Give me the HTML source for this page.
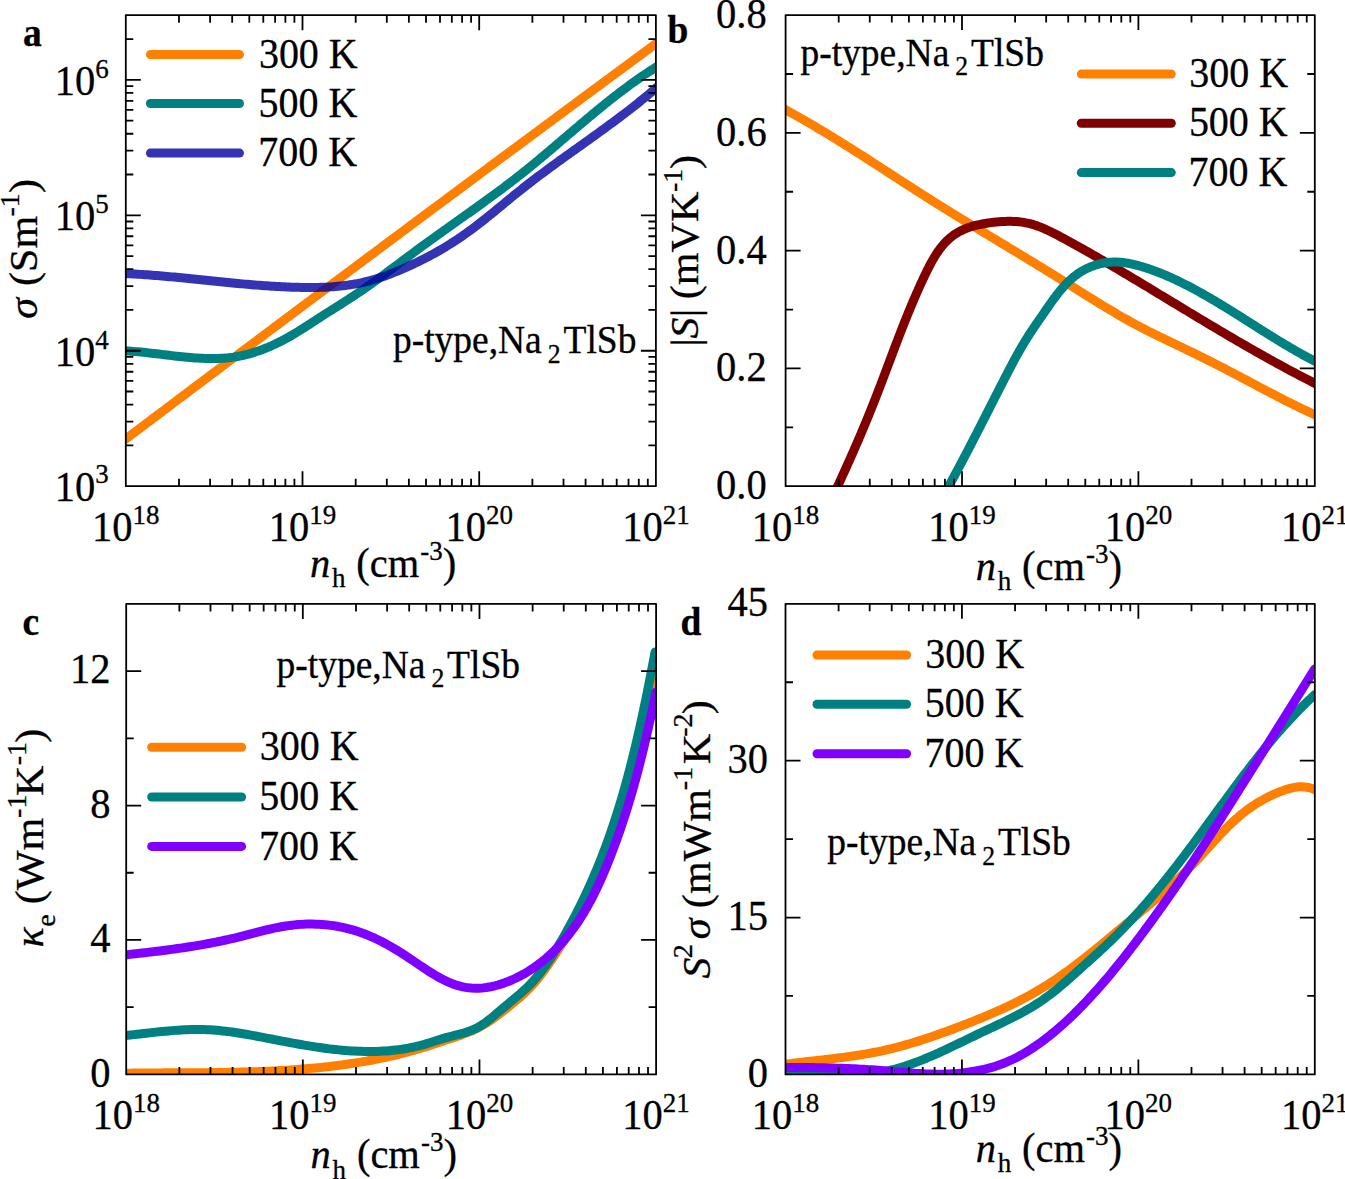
<!DOCTYPE html>
<html><head><meta charset="utf-8"><title>Na2TlSb transport</title>
<style>html,body{margin:0;padding:0;background:#fff;}svg{display:block;}text{stroke:#000;stroke-width:0.3px;}</style></head>
<body><svg width="1345" height="1179" viewBox="0 0 1345 1179" font-family='"Liberation Serif", serif' stroke-linejoin="round"><defs>
<clipPath id="clipa"><rect x="125.8" y="15.2" width="530.10" height="471.00"/></clipPath>
<clipPath id="clipb"><rect x="785.6" y="15.1" width="529.20" height="471.10"/></clipPath>
<clipPath id="clipc"><rect x="126.2" y="603.9" width="529.90" height="470.50"/></clipPath>
<clipPath id="clipd"><rect x="785.5" y="603.8" width="529.30" height="470.60"/></clipPath>
</defs>
<path d="M118.01 444.81 L120.19 443.16 L122.38 441.52 L124.56 439.87 L126.74 438.22 L128.93 436.57 L131.11 434.93 L133.29 433.28 L135.48 431.63 L137.66 429.99 L139.85 428.34 L142.03 426.69 L144.21 425.05 L146.40 423.40 L148.58 421.75 L150.77 420.11 L152.95 418.46 L155.14 416.82 L157.32 415.17 L159.51 413.53 L161.69 411.88 L163.88 410.23 L166.06 408.59 L168.25 406.94 L170.43 405.30 L172.62 403.65 L174.80 402.01 L176.99 400.36 L179.17 398.72 L181.36 397.08 L183.54 395.43 L185.73 393.79 L187.92 392.14 L190.10 390.50 L192.29 388.85 L194.47 387.21 L196.66 385.57 L198.85 383.92 L201.03 382.28 L203.22 380.64 L205.41 378.99 L207.59 377.35 L209.78 375.71 L211.97 374.06 L214.15 372.42 L216.34 370.78 L218.53 369.14 L220.71 367.49 L222.90 365.85 L225.09 364.21 L227.28 362.57 L229.46 360.92 L231.65 359.28 L233.84 357.64 L236.03 356.00 L238.21 354.36 L240.40 352.72 L242.59 351.07 L244.78 349.43 L246.97 347.79 L249.15 346.15 L251.34 344.51 L253.53 342.87 L255.72 341.23 L257.91 339.59 L260.10 337.95 L262.28 336.31 L264.47 334.66 L266.66 333.02 L268.85 331.38 L271.04 329.74 L273.23 328.10 L275.42 326.46 L277.61 324.82 L279.80 323.18 L281.99 321.55 L284.17 319.91 L286.36 318.27 L288.55 316.63 L290.74 314.99 L292.93 313.35 L295.12 311.71 L297.31 310.07 L299.50 308.43 L301.69 306.79 L303.88 305.16 L306.07 303.52 L308.26 301.88 L310.45 300.24 L312.64 298.60 L314.83 296.96 L317.02 295.33 L319.22 293.69 L321.41 292.05 L323.60 290.41 L325.79 288.78 L327.98 287.14 L330.17 285.50 L332.36 283.86 L334.55 282.23 L336.74 280.59 L338.93 278.95 L341.13 277.32 L343.32 275.68 L345.51 274.04 L347.70 272.41 L349.89 270.77 L352.08 269.13 L354.28 267.50 L356.47 265.86 L358.66 264.22 L360.85 262.59 L363.04 260.95 L365.24 259.32 L367.43 257.68 L369.62 256.05 L371.81 254.41 L374.01 252.78 L376.20 251.14 L378.39 249.50 L380.58 247.87 L382.78 246.23 L384.97 244.60 L387.16 242.97 L389.35 241.33 L391.55 239.70 L393.74 238.06 L395.93 236.43 L398.13 234.79 L400.32 233.16 L402.51 231.52 L404.71 229.89 L406.90 228.26 L409.09 226.62 L411.29 224.99 L413.48 223.36 L415.68 221.72 L417.87 220.09 L420.06 218.46 L422.26 216.82 L424.45 215.19 L426.65 213.56 L428.84 211.92 L431.03 210.29 L433.23 208.66 L435.42 207.02 L437.62 205.39 L439.81 203.76 L442.01 202.13 L444.20 200.49 L446.40 198.86 L448.59 197.23 L450.79 195.60 L452.98 193.97 L455.18 192.33 L457.37 190.70 L459.57 189.07 L461.76 187.44 L463.96 185.81 L466.15 184.18 L468.35 182.55 L470.54 180.91 L472.74 179.28 L474.94 177.65 L477.13 176.02 L479.33 174.39 L481.52 172.76 L483.72 171.13 L485.92 169.50 L488.11 167.87 L490.31 166.24 L492.50 164.61 L494.70 162.98 L496.90 161.35 L499.09 159.72 L501.29 158.09 L503.49 156.46 L505.68 154.83 L507.88 153.20 L510.08 151.57 L512.27 149.94 L514.47 148.31 L516.67 146.68 L518.86 145.05 L521.06 143.42 L523.26 141.79 L525.46 140.16 L527.65 138.54 L529.85 136.91 L532.05 135.28 L534.24 133.65 L536.44 132.02 L538.64 130.39 L540.84 128.76 L543.04 127.14 L545.23 125.51 L547.43 123.88 L549.63 122.25 L551.83 120.62 L554.03 119.00 L556.22 117.37 L558.42 115.74 L560.62 114.11 L562.82 112.49 L565.02 110.86 L567.22 109.23 L569.41 107.60 L571.61 105.98 L573.81 104.35 L576.01 102.72 L578.21 101.10 L580.41 99.47 L582.61 97.84 L584.81 96.22 L587.00 94.59 L589.20 92.96 L591.40 91.34 L593.60 89.71 L595.80 88.08 L598.00 86.46 L600.20 84.83 L602.40 83.21 L604.60 81.58 L606.80 79.95 L609.00 78.33 L611.20 76.70 L613.40 75.08 L615.60 73.45 L617.80 71.83 L620.00 70.20 L622.20 68.58 L624.40 66.95 L626.60 65.33 L628.80 63.70 L631.00 62.08 L633.20 60.45 L635.40 58.83 L637.60 57.20 L639.80 55.58 L642.00 53.95 L644.20 52.33 L646.40 50.70 L648.60 49.08 L650.80 47.46 L653.00 45.83 L655.20 44.21 L657.41 42.58 L659.61 40.96 L661.81 39.34 L664.01 37.71" stroke="#FF8000" stroke-width="9.0" fill="none" stroke-linejoin="round" stroke-linecap="round" clip-path="url(#clipa)"/>
<path d="M118.09 350.78 L120.60 350.82 L123.11 350.89 L125.63 350.99 L128.16 351.11 L130.69 351.26 L133.23 351.44 L135.77 351.63 L138.32 351.85 L140.87 352.08 L143.43 352.33 L145.99 352.60 L148.56 352.87 L151.13 353.16 L153.70 353.46 L156.28 353.76 L158.86 354.07 L161.44 354.38 L164.02 354.70 L166.61 355.01 L169.19 355.32 L171.78 355.63 L174.37 355.93 L176.96 356.23 L179.55 356.51 L182.14 356.79 L184.72 357.05 L187.31 357.29 L189.90 357.52 L192.49 357.73 L195.07 357.93 L197.65 358.09 L200.23 358.24 L202.81 358.36 L205.38 358.45 L207.95 358.51 L210.52 358.54 L213.09 358.54 L215.65 358.50 L218.20 358.43 L220.75 358.31 L223.30 358.16 L225.84 357.96 L228.38 357.73 L230.91 357.44 L233.43 357.11 L235.95 356.72 L238.45 356.29 L240.96 355.80 L243.45 355.26 L245.94 354.67 L248.42 354.03 L250.89 353.35 L253.35 352.61 L255.80 351.83 L258.24 351.01 L260.67 350.15 L263.08 349.24 L265.49 348.30 L267.88 347.32 L270.26 346.30 L272.63 345.25 L274.99 344.16 L277.33 343.04 L279.65 341.89 L281.96 340.71 L284.25 339.51 L286.53 338.27 L288.79 337.02 L291.04 335.73 L293.27 334.43 L295.48 333.11 L297.68 331.77 L299.87 330.41 L302.05 329.04 L304.22 327.66 L306.38 326.28 L308.54 324.88 L310.70 323.48 L312.85 322.08 L315.00 320.67 L317.15 319.27 L319.31 317.87 L321.47 316.48 L323.63 315.09 L325.80 313.71 L327.96 312.33 L330.14 310.96 L332.31 309.58 L334.48 308.21 L336.65 306.84 L338.83 305.47 L341.00 304.09 L343.17 302.71 L345.33 301.33 L347.49 299.94 L349.65 298.54 L351.80 297.14 L353.95 295.73 L356.09 294.31 L358.22 292.88 L360.35 291.44 L362.47 289.98 L364.59 288.52 L366.70 287.05 L368.80 285.58 L370.90 284.09 L372.99 282.60 L375.08 281.10 L377.17 279.60 L379.25 278.09 L381.33 276.57 L383.40 275.05 L385.47 273.52 L387.54 271.99 L389.61 270.46 L391.67 268.93 L393.74 267.39 L395.80 265.85 L397.86 264.31 L399.92 262.76 L401.98 261.22 L404.04 259.68 L406.11 258.14 L408.17 256.59 L410.23 255.05 L412.30 253.52 L414.36 251.98 L416.43 250.45 L418.50 248.92 L420.57 247.39 L422.65 245.87 L424.73 244.35 L426.81 242.84 L428.89 241.32 L430.98 239.82 L433.07 238.31 L435.16 236.81 L437.25 235.31 L439.34 233.81 L441.44 232.32 L443.53 230.82 L445.63 229.33 L447.73 227.84 L449.83 226.35 L451.93 224.86 L454.03 223.38 L456.13 221.89 L458.23 220.40 L460.32 218.91 L462.42 217.43 L464.52 215.94 L466.62 214.45 L468.72 212.96 L470.81 211.47 L472.91 209.98 L475.00 208.48 L477.09 206.99 L479.18 205.49 L481.27 203.99 L483.36 202.49 L485.44 200.98 L487.52 199.47 L489.60 197.96 L491.68 196.44 L493.75 194.92 L495.82 193.40 L497.89 191.87 L499.95 190.34 L502.01 188.80 L504.07 187.26 L506.12 185.71 L508.17 184.16 L510.21 182.60 L512.25 181.04 L514.29 179.46 L516.32 177.89 L518.34 176.30 L520.36 174.71 L522.38 173.12 L524.39 171.51 L526.39 169.90 L528.39 168.29 L530.39 166.67 L532.38 165.04 L534.37 163.41 L536.35 161.77 L538.34 160.13 L540.31 158.48 L542.29 156.83 L544.26 155.18 L546.23 153.52 L548.20 151.86 L550.17 150.20 L552.13 148.53 L554.09 146.87 L556.05 145.20 L558.01 143.53 L559.97 141.86 L561.93 140.19 L563.89 138.51 L565.85 136.84 L567.81 135.17 L569.76 133.50 L571.72 131.82 L573.68 130.15 L575.64 128.48 L577.60 126.81 L579.57 125.15 L581.53 123.48 L583.50 121.82 L585.47 120.16 L587.44 118.51 L589.41 116.86 L591.39 115.21 L593.37 113.56 L595.35 111.92 L597.34 110.29 L599.33 108.66 L601.33 107.03 L603.33 105.41 L605.33 103.80 L607.34 102.19 L609.35 100.59 L611.37 98.99 L613.39 97.40 L615.42 95.82 L617.45 94.25 L619.49 92.68 L621.54 91.13 L623.59 89.58 L625.65 88.04 L627.72 86.51 L629.80 84.99 L631.88 83.48 L633.97 81.98 L636.06 80.49 L638.17 79.01 L640.28 77.54 L642.41 76.08 L644.54 74.63 L646.68 73.20 L648.83 71.78 L650.99 70.37 L653.16 68.97 L655.33 67.59 L657.52 66.22 L659.72 64.86 L661.93 63.52 L664.15 62.19" stroke="#008080" stroke-width="9.0" fill="none" stroke-linejoin="round" stroke-linecap="round" clip-path="url(#clipa)"/>
<path d="M117.98 273.33 L120.44 273.41 L122.89 273.50 L125.35 273.60 L127.80 273.71 L130.25 273.83 L132.70 273.95 L135.15 274.08 L137.60 274.23 L140.05 274.37 L142.50 274.53 L144.94 274.69 L147.39 274.86 L149.83 275.04 L152.28 275.22 L154.72 275.41 L157.17 275.60 L159.61 275.80 L162.05 276.01 L164.49 276.22 L166.93 276.43 L169.38 276.65 L171.82 276.87 L174.26 277.10 L176.69 277.33 L179.13 277.56 L181.57 277.80 L184.01 278.04 L186.45 278.28 L188.89 278.52 L191.32 278.77 L193.76 279.02 L196.20 279.27 L198.64 279.52 L201.07 279.77 L203.51 280.02 L205.95 280.27 L208.38 280.52 L210.82 280.77 L213.26 281.02 L215.69 281.27 L218.13 281.52 L220.57 281.77 L223.01 282.01 L225.44 282.26 L227.88 282.50 L230.32 282.74 L232.76 282.98 L235.19 283.21 L237.63 283.44 L240.07 283.67 L242.51 283.89 L244.95 284.11 L247.39 284.32 L249.83 284.53 L252.27 284.74 L254.71 284.94 L257.16 285.13 L259.60 285.32 L262.04 285.50 L264.48 285.68 L266.93 285.85 L269.37 286.02 L271.82 286.17 L274.27 286.32 L276.71 286.46 L279.16 286.60 L281.61 286.72 L284.06 286.84 L286.51 286.95 L288.96 287.05 L291.42 287.14 L293.87 287.22 L296.32 287.29 L298.78 287.35 L301.23 287.40 L303.69 287.44 L306.15 287.47 L308.61 287.49 L311.07 287.49 L313.52 287.47 L315.98 287.45 L318.44 287.40 L320.89 287.33 L323.35 287.25 L325.80 287.15 L328.25 287.02 L330.70 286.88 L333.14 286.71 L335.58 286.52 L338.02 286.30 L340.46 286.06 L342.89 285.79 L345.31 285.49 L347.73 285.16 L350.15 284.81 L352.56 284.42 L354.97 284.00 L357.37 283.55 L359.77 283.07 L362.16 282.55 L364.54 282.00 L366.91 281.42 L369.28 280.81 L371.64 280.17 L374.00 279.49 L376.34 278.79 L378.68 278.06 L381.01 277.30 L383.33 276.52 L385.64 275.70 L387.95 274.86 L390.24 273.99 L392.53 273.10 L394.80 272.18 L397.07 271.25 L399.33 270.30 L401.59 269.33 L403.84 268.35 L406.09 267.35 L408.33 266.35 L410.57 265.33 L412.80 264.30 L415.02 263.25 L417.23 262.19 L419.44 261.12 L421.65 260.03 L423.84 258.93 L426.02 257.81 L428.20 256.68 L430.37 255.53 L432.53 254.37 L434.68 253.19 L436.82 251.99 L438.95 250.78 L441.07 249.55 L443.18 248.31 L445.27 247.05 L447.36 245.77 L449.44 244.48 L451.51 243.18 L453.57 241.86 L455.62 240.52 L457.66 239.17 L459.69 237.81 L461.71 236.43 L463.72 235.03 L465.72 233.63 L467.71 232.20 L469.69 230.77 L471.66 229.32 L473.63 227.86 L475.58 226.39 L477.53 224.90 L479.46 223.41 L481.39 221.90 L483.32 220.39 L485.24 218.86 L487.15 217.33 L489.06 215.80 L490.96 214.25 L492.86 212.71 L494.76 211.15 L496.66 209.60 L498.55 208.04 L500.44 206.48 L502.33 204.92 L504.23 203.36 L506.12 201.80 L508.01 200.24 L509.91 198.68 L511.80 197.13 L513.70 195.58 L515.61 194.03 L517.52 192.49 L519.43 190.95 L521.34 189.43 L523.27 187.90 L525.19 186.39 L527.13 184.88 L529.06 183.38 L531.00 181.88 L532.95 180.39 L534.90 178.91 L536.85 177.43 L538.81 175.96 L540.77 174.49 L542.74 173.02 L544.70 171.56 L546.68 170.10 L548.65 168.65 L550.62 167.20 L552.60 165.75 L554.58 164.31 L556.57 162.87 L558.55 161.44 L560.54 160.00 L562.53 158.57 L564.52 157.14 L566.51 155.71 L568.50 154.28 L570.50 152.85 L572.49 151.43 L574.49 150.00 L576.48 148.58 L578.48 147.16 L580.47 145.73 L582.47 144.31 L584.46 142.89 L586.46 141.46 L588.45 140.04 L590.44 138.61 L592.43 137.18 L594.43 135.75 L596.41 134.32 L598.40 132.89 L600.39 131.45 L602.37 130.01 L604.35 128.57 L606.33 127.13 L608.31 125.68 L610.29 124.23 L612.26 122.77 L614.23 121.32 L616.19 119.85 L618.16 118.39 L620.12 116.91 L622.07 115.44 L624.02 113.96 L625.97 112.47 L627.91 110.98 L629.85 109.48 L631.79 107.97 L633.72 106.46 L635.64 104.94 L637.56 103.42 L639.48 101.89 L641.38 100.35 L643.29 98.80 L645.18 97.25 L647.08 95.69 L648.96 94.12 L650.84 92.54 L652.71 90.95 L654.58 89.36 L656.44 87.75 L658.29 86.14 L660.14 84.52 L661.97 82.88 L663.80 81.24" stroke="#0000A0" stroke-width="9.0" fill="none" stroke-linejoin="round" stroke-linecap="round" stroke-opacity="0.8" clip-path="url(#clipa)"/>
<path d="M178.99 486.20v-7.5M178.99 15.20v7.5M210.11 486.20v-7.5M210.11 15.20v7.5M232.18 486.20v-7.5M232.18 15.20v7.5M249.31 486.20v-7.5M249.31 15.20v7.5M263.30 486.20v-7.5M263.30 15.20v7.5M275.13 486.20v-7.5M275.13 15.20v7.5M285.38 486.20v-7.5M285.38 15.20v7.5M294.41 486.20v-7.5M294.41 15.20v7.5M302.50 486.20v-15M302.50 15.20v15M355.69 486.20v-7.5M355.69 15.20v7.5M386.81 486.20v-7.5M386.81 15.20v7.5M408.88 486.20v-7.5M408.88 15.20v7.5M426.01 486.20v-7.5M426.01 15.20v7.5M440.00 486.20v-7.5M440.00 15.20v7.5M451.83 486.20v-7.5M451.83 15.20v7.5M462.08 486.20v-7.5M462.08 15.20v7.5M471.11 486.20v-7.5M471.11 15.20v7.5M479.20 486.20v-15M479.20 15.20v15M532.39 486.20v-7.5M532.39 15.20v7.5M563.51 486.20v-7.5M563.51 15.20v7.5M585.58 486.20v-7.5M585.58 15.20v7.5M602.71 486.20v-7.5M602.71 15.20v7.5M616.70 486.20v-7.5M616.70 15.20v7.5M628.53 486.20v-7.5M628.53 15.20v7.5M638.78 486.20v-7.5M638.78 15.20v7.5M647.81 486.20v-7.5M647.81 15.20v7.5M125.80 350.74h15M655.90 350.74h-15M125.80 215.29h15M655.90 215.29h-15M125.80 79.83h15M655.90 79.83h-15M125.80 445.42h7.5M655.90 445.42h-7.5M125.80 421.57h7.5M655.90 421.57h-7.5M125.80 404.65h7.5M655.90 404.65h-7.5M125.80 391.52h7.5M655.90 391.52h-7.5M125.80 380.79h7.5M655.90 380.79h-7.5M125.80 371.73h7.5M655.90 371.73h-7.5M125.80 363.87h7.5M655.90 363.87h-7.5M125.80 356.94h7.5M655.90 356.94h-7.5M125.80 309.97h7.5M655.90 309.97h-7.5M125.80 286.11h7.5M655.90 286.11h-7.5M125.80 269.19h7.5M655.90 269.19h-7.5M125.80 256.06h7.5M655.90 256.06h-7.5M125.80 245.34h7.5M655.90 245.34h-7.5M125.80 236.27h7.5M655.90 236.27h-7.5M125.80 228.41h7.5M655.90 228.41h-7.5M125.80 221.48h7.5M655.90 221.48h-7.5M125.80 174.51h7.5M655.90 174.51h-7.5M125.80 150.66h7.5M655.90 150.66h-7.5M125.80 133.73h7.5M655.90 133.73h-7.5M125.80 120.61h7.5M655.90 120.61h-7.5M125.80 109.88h7.5M655.90 109.88h-7.5M125.80 100.81h7.5M655.90 100.81h-7.5M125.80 92.96h7.5M655.90 92.96h-7.5M125.80 86.03h7.5M655.90 86.03h-7.5M125.80 39.05h7.5M655.90 39.05h-7.5" stroke="#000" stroke-width="1.8" fill="none"/>
<rect x="125.80" y="15.20" width="530.10" height="471.00" stroke="#000" stroke-width="1.8" fill="none"/>
<line x1="150.40" y1="54.60" x2="239.50" y2="54.60" stroke="#FF8000" stroke-width="9.0" stroke-linecap="round"/>
<text transform="matrix(1 0 0 1.04 0 -2.712)" x="258.89" y="67.80" font-size="40.0">300 K</text>
<line x1="150.40" y1="103.50" x2="239.50" y2="103.50" stroke="#008080" stroke-width="9.0" stroke-linecap="round"/>
<text transform="matrix(1 0 0 1.04 0 -4.668)" x="258.48" y="116.70" font-size="40.0">500 K</text>
<line x1="150.40" y1="153.10" x2="239.50" y2="153.10" stroke="#3333B3" stroke-width="9.0" stroke-linecap="round"/>
<text transform="matrix(1 0 0 1.04 0 -6.652)" x="258.16" y="166.30" font-size="40.0">700 K</text>
<text transform="matrix(1 0 0 1.04 0 -14.132)" x="392.90" y="353.30" font-size="37.5">p-type,Na</text>
<text transform="matrix(1 0 0 1.04 0 -14.508)" x="547.87" y="362.70" font-size="25.7">2</text>
<text transform="matrix(1 0 0 1.04 0 -14.132)" x="563.52" y="353.30" font-size="37.5">TlSb</text>
<text transform="matrix(1 0 0 1.04 0 -21.624)" x="92.05" y="540.60" font-size="40.5">10</text>
<text transform="matrix(1 0 0 1.04 0 -20.944)" x="132.55" y="523.60" font-size="27.0">18</text>
<text transform="matrix(1 0 0 1.04 0 -21.624)" x="268.75" y="540.60" font-size="40.5">10</text>
<text transform="matrix(1 0 0 1.04 0 -20.944)" x="309.25" y="523.60" font-size="27.0">19</text>
<text transform="matrix(1 0 0 1.04 0 -21.624)" x="445.45" y="540.60" font-size="40.5">10</text>
<text transform="matrix(1 0 0 1.04 0 -20.944)" x="485.95" y="523.60" font-size="27.0">20</text>
<text transform="matrix(1 0 0 1.04 0 -21.624)" x="622.15" y="540.60" font-size="40.5">10</text>
<text transform="matrix(1 0 0 1.04 0 -20.944)" x="662.65" y="523.60" font-size="27.0">21</text>
<text transform="matrix(1 0 0 1.04 0 -23.076)" x="309.96" y="576.90" font-size="40.5" font-style="italic">n</text>
<text transform="matrix(1 0 0 1.04 0 -23.500)" x="331.94" y="587.50" font-size="27.0">h</text>
<text transform="matrix(1 0 0 1.04 0 -23.076)" x="356.32" y="576.90" font-size="40.5">(cm</text>
<text transform="matrix(1 0 0 1.04 0 -22.400)" x="420.30" y="560.00" font-size="27.0">-3</text>
<text transform="matrix(1 0 0 1.04 0 -23.076)" x="442.79" y="576.90" font-size="40.5">)</text>
<text transform="matrix(1 0 0 1.04 0 -20.028)" x="54.84" y="500.70" font-size="40.5">10</text>
<text transform="matrix(1 0 0 1.04 0 -19.340)" x="95.34" y="483.50" font-size="27.0">3</text>
<text transform="matrix(1 0 0 1.04 0 -14.630)" x="54.84" y="365.74" font-size="40.5">10</text>
<text transform="matrix(1 0 0 1.04 0 -13.942)" x="95.34" y="348.54" font-size="27.0">4</text>
<text transform="matrix(1 0 0 1.04 0 -9.211)" x="54.84" y="230.29" font-size="40.5">10</text>
<text transform="matrix(1 0 0 1.04 0 -8.523)" x="95.34" y="213.09" font-size="27.0">5</text>
<text transform="matrix(1 0 0 1.04 0 -3.793)" x="54.84" y="94.83" font-size="40.5">10</text>
<text transform="matrix(1 0 0 1.04 0 -3.105)" x="95.34" y="77.63" font-size="27.0">6</text>
<text transform="matrix(1 0 0 1.04 0 -12.696) rotate(-90)" x="-318.61" y="37.20" font-size="40.5" font-style="italic">σ</text>
<text transform="matrix(1 0 0 1.04 0 -11.364) rotate(-90)" x="-285.88" y="37.20" font-size="40.5">(Sm</text>
<text transform="matrix(1 0 0 1.04 0 -8.620) rotate(-90)" x="-216.50" y="19.00" font-size="27.0">-1</text>
<text transform="matrix(1 0 0 1.04 0 -7.668) rotate(-90)" x="-193.01" y="37.20" font-size="40.5">)</text>
<text transform="matrix(1 0 0 1.04 0 -1.828)" x="22.99" y="45.70" font-size="37.5" font-weight="bold">a</text>
<path d="M778.02 105.75 L780.25 106.94 L782.48 108.13 L784.70 109.32 L786.92 110.53 L789.13 111.74 L791.34 112.95 L793.55 114.18 L795.75 115.41 L797.95 116.64 L800.14 117.88 L802.34 119.13 L804.52 120.39 L806.71 121.65 L808.89 122.91 L811.07 124.18 L813.24 125.46 L815.41 126.74 L817.58 128.02 L819.75 129.31 L821.91 130.61 L824.07 131.91 L826.23 133.21 L828.38 134.52 L830.54 135.83 L832.69 137.15 L834.83 138.47 L836.98 139.79 L839.12 141.12 L841.26 142.45 L843.40 143.78 L845.54 145.12 L847.68 146.46 L849.81 147.80 L851.94 149.15 L854.07 150.49 L856.20 151.84 L858.33 153.20 L860.45 154.55 L862.58 155.91 L864.70 157.27 L866.83 158.63 L868.95 159.99 L871.07 161.36 L873.19 162.72 L875.31 164.09 L877.43 165.46 L879.55 166.82 L881.66 168.19 L883.78 169.56 L885.90 170.93 L888.01 172.30 L890.13 173.68 L892.25 175.05 L894.36 176.42 L896.48 177.79 L898.60 179.16 L900.72 180.53 L902.83 181.90 L904.95 183.27 L907.07 184.64 L909.19 186.00 L911.31 187.37 L913.43 188.73 L915.55 190.10 L917.67 191.46 L919.80 192.82 L921.92 194.18 L924.05 195.53 L926.17 196.89 L928.30 198.24 L930.43 199.59 L932.56 200.94 L934.70 202.28 L936.83 203.62 L938.97 204.96 L941.10 206.30 L943.24 207.63 L945.38 208.97 L947.52 210.30 L949.67 211.62 L951.81 212.95 L953.96 214.27 L956.10 215.60 L958.25 216.92 L960.40 218.24 L962.55 219.55 L964.70 220.87 L966.85 222.18 L969.00 223.50 L971.16 224.81 L973.31 226.12 L975.46 227.43 L977.62 228.74 L979.77 230.04 L981.93 231.35 L984.09 232.66 L986.24 233.96 L988.40 235.27 L990.56 236.57 L992.72 237.87 L994.87 239.18 L997.03 240.48 L999.19 241.78 L1001.35 243.08 L1003.51 244.39 L1005.67 245.69 L1007.83 246.99 L1009.98 248.30 L1012.14 249.60 L1014.30 250.90 L1016.46 252.21 L1018.61 253.51 L1020.77 254.82 L1022.93 256.13 L1025.08 257.43 L1027.24 258.74 L1029.39 260.05 L1031.55 261.36 L1033.70 262.67 L1035.85 263.98 L1038.01 265.30 L1040.16 266.61 L1042.31 267.93 L1044.46 269.25 L1046.61 270.57 L1048.75 271.89 L1050.90 273.21 L1053.04 274.54 L1055.19 275.87 L1057.33 277.19 L1059.47 278.53 L1061.61 279.86 L1063.75 281.20 L1065.89 282.53 L1068.02 283.87 L1070.16 285.22 L1072.29 286.56 L1074.43 287.90 L1076.56 289.24 L1078.70 290.58 L1080.83 291.93 L1082.97 293.27 L1085.11 294.60 L1087.24 295.94 L1089.38 297.28 L1091.52 298.61 L1093.66 299.94 L1095.80 301.27 L1097.95 302.59 L1100.10 303.91 L1102.25 305.22 L1104.40 306.53 L1106.55 307.83 L1108.71 309.13 L1110.87 310.43 L1113.04 311.71 L1115.21 312.99 L1117.38 314.26 L1119.56 315.53 L1121.74 316.79 L1123.93 318.04 L1126.12 319.28 L1128.31 320.51 L1130.51 321.73 L1132.72 322.94 L1134.93 324.14 L1137.15 325.34 L1139.38 326.52 L1141.61 327.69 L1143.84 328.85 L1146.09 330.00 L1148.33 331.14 L1150.59 332.27 L1152.84 333.39 L1155.10 334.51 L1157.37 335.62 L1159.63 336.72 L1161.90 337.82 L1164.18 338.92 L1166.45 340.01 L1168.72 341.11 L1171.00 342.20 L1173.28 343.28 L1175.55 344.37 L1177.83 345.46 L1180.11 346.55 L1182.38 347.65 L1184.66 348.74 L1186.93 349.84 L1189.20 350.94 L1191.47 352.05 L1193.73 353.16 L1196.00 354.27 L1198.26 355.38 L1200.52 356.50 L1202.78 357.62 L1205.04 358.75 L1207.30 359.88 L1209.55 361.01 L1211.81 362.14 L1214.06 363.28 L1216.31 364.42 L1218.55 365.57 L1220.80 366.72 L1223.04 367.87 L1225.28 369.03 L1227.52 370.19 L1229.75 371.36 L1231.99 372.53 L1234.22 373.70 L1236.45 374.87 L1238.68 376.05 L1240.91 377.23 L1243.14 378.41 L1245.37 379.59 L1247.60 380.77 L1249.83 381.95 L1252.05 383.13 L1254.28 384.31 L1256.51 385.49 L1258.74 386.67 L1260.96 387.85 L1263.19 389.03 L1265.42 390.20 L1267.66 391.37 L1269.89 392.54 L1272.12 393.71 L1274.36 394.87 L1276.60 396.03 L1278.84 397.19 L1281.08 398.34 L1283.33 399.48 L1285.57 400.63 L1287.82 401.76 L1290.08 402.89 L1292.33 404.01 L1294.60 405.13 L1296.86 406.24 L1299.13 407.34 L1301.40 408.44 L1303.67 409.53 L1305.95 410.61 L1308.24 411.68 L1310.53 412.74 L1312.82 413.79 L1315.12 414.84 L1317.43 415.87 L1319.74 416.89 L1322.05 417.90" stroke="#FF8000" stroke-width="9.0" fill="none" stroke-linejoin="round" stroke-linecap="round" clip-path="url(#clipb)"/>
<path d="M834.00 493.96 L835.18 491.44 L836.36 488.91 L837.54 486.38 L838.72 483.84 L839.90 481.30 L841.07 478.76 L842.24 476.21 L843.41 473.66 L844.57 471.10 L845.74 468.53 L846.90 465.97 L848.05 463.40 L849.20 460.82 L850.35 458.25 L851.50 455.67 L852.64 453.08 L853.78 450.49 L854.91 447.90 L856.04 445.31 L857.16 442.71 L858.28 440.12 L859.40 437.52 L860.51 434.91 L861.61 432.31 L862.71 429.70 L863.81 427.09 L864.90 424.48 L865.98 421.87 L867.06 419.26 L868.13 416.64 L869.20 414.03 L870.26 411.41 L871.31 408.80 L872.36 406.18 L873.40 403.56 L874.43 400.94 L875.46 398.32 L876.48 395.71 L877.50 393.09 L878.51 390.47 L879.51 387.85 L880.51 385.23 L881.51 382.61 L882.51 379.99 L883.50 377.37 L884.49 374.75 L885.48 372.14 L886.46 369.52 L887.45 366.90 L888.43 364.28 L889.41 361.66 L890.40 359.05 L891.38 356.43 L892.37 353.81 L893.35 351.20 L894.34 348.58 L895.34 345.96 L896.33 343.35 L897.33 340.74 L898.33 338.12 L899.33 335.51 L900.35 332.90 L901.36 330.28 L902.38 327.67 L903.41 325.06 L904.44 322.45 L905.48 319.84 L906.53 317.24 L907.59 314.63 L908.65 312.02 L909.72 309.42 L910.80 306.81 L911.89 304.21 L913.00 301.61 L914.11 299.01 L915.23 296.41 L916.36 293.81 L917.51 291.21 L918.66 288.62 L919.83 286.02 L921.02 283.43 L922.21 280.84 L923.43 278.25 L924.65 275.66 L925.89 273.07 L927.15 270.49 L928.43 267.93 L929.75 265.38 L931.09 262.86 L932.48 260.37 L933.90 257.91 L935.38 255.50 L936.90 253.14 L938.48 250.84 L940.12 248.59 L941.83 246.41 L943.61 244.31 L945.46 242.28 L947.39 240.34 L949.41 238.49 L951.51 236.74 L953.70 235.09 L955.98 233.55 L958.34 232.12 L960.78 230.81 L963.30 229.62 L965.88 228.54 L968.51 227.56 L971.20 226.68 L973.92 225.89 L976.68 225.18 L979.46 224.55 L982.27 223.99 L985.10 223.49 L987.93 223.04 L990.77 222.64 L993.61 222.29 L996.45 221.99 L999.29 221.73 L1002.13 221.54 L1004.96 221.40 L1007.78 221.34 L1010.59 221.34 L1013.39 221.41 L1016.17 221.57 L1018.95 221.81 L1021.70 222.13 L1024.44 222.55 L1027.16 223.07 L1029.86 223.68 L1032.53 224.40 L1035.18 225.22 L1037.82 226.12 L1040.43 227.11 L1043.02 228.17 L1045.60 229.29 L1048.17 230.47 L1050.72 231.70 L1053.26 232.97 L1055.79 234.27 L1058.30 235.60 L1060.82 236.94 L1063.32 238.29 L1065.82 239.65 L1068.31 241.00 L1070.80 242.37 L1073.29 243.73 L1075.76 245.11 L1078.24 246.48 L1080.71 247.86 L1083.17 249.24 L1085.63 250.63 L1088.08 252.02 L1090.54 253.42 L1092.98 254.82 L1095.43 256.22 L1097.87 257.62 L1100.31 259.03 L1102.74 260.44 L1105.17 261.86 L1107.60 263.27 L1110.02 264.69 L1112.45 266.12 L1114.87 267.54 L1117.29 268.97 L1119.70 270.40 L1122.12 271.83 L1124.53 273.27 L1126.94 274.70 L1129.36 276.14 L1131.77 277.58 L1134.17 279.03 L1136.58 280.47 L1138.99 281.92 L1141.40 283.36 L1143.80 284.81 L1146.21 286.26 L1148.62 287.72 L1151.02 289.17 L1153.43 290.62 L1155.84 292.08 L1158.24 293.53 L1160.65 294.99 L1163.05 296.45 L1165.46 297.90 L1167.87 299.36 L1170.27 300.82 L1172.68 302.28 L1175.09 303.73 L1177.50 305.19 L1179.91 306.65 L1182.32 308.11 L1184.72 309.56 L1187.13 311.02 L1189.55 312.48 L1191.96 313.93 L1194.37 315.38 L1196.78 316.84 L1199.20 318.29 L1201.61 319.74 L1204.03 321.19 L1206.44 322.64 L1208.86 324.08 L1211.28 325.53 L1213.70 326.97 L1216.12 328.41 L1218.54 329.85 L1220.97 331.28 L1223.39 332.72 L1225.82 334.15 L1228.24 335.58 L1230.67 337.00 L1233.10 338.43 L1235.54 339.85 L1237.97 341.27 L1240.41 342.68 L1242.84 344.09 L1245.28 345.50 L1247.72 346.91 L1250.17 348.31 L1252.61 349.71 L1255.06 351.10 L1257.50 352.49 L1259.96 353.88 L1262.41 355.26 L1264.86 356.64 L1267.32 358.01 L1269.78 359.38 L1272.24 360.75 L1274.70 362.11 L1277.17 363.46 L1279.64 364.81 L1282.11 366.16 L1284.58 367.50 L1287.06 368.84 L1289.54 370.17 L1292.02 371.49 L1294.51 372.81 L1296.99 374.12 L1299.48 375.43 L1301.98 376.73 L1304.47 378.03 L1306.97 379.32 L1309.47 380.60 L1311.98 381.88 L1314.48 383.15 L1317.00 384.42 L1319.51 385.67 L1322.03 386.92" stroke="#800000" stroke-width="9.0" fill="none" stroke-linejoin="round" stroke-linecap="round" clip-path="url(#clipb)"/>
<path d="M944.43 493.97 L945.48 492.10 L946.51 490.24 L947.55 488.37 L948.58 486.50 L949.61 484.63 L950.64 482.76 L951.66 480.88 L952.68 479.01 L953.70 477.13 L954.71 475.26 L955.72 473.38 L956.73 471.50 L957.74 469.62 L958.74 467.73 L959.74 465.85 L960.74 463.97 L961.74 462.08 L962.74 460.19 L963.73 458.31 L964.72 456.42 L965.71 454.53 L966.70 452.64 L967.68 450.75 L968.67 448.86 L969.65 446.96 L970.63 445.07 L971.61 443.17 L972.59 441.28 L973.57 439.38 L974.54 437.49 L975.52 435.59 L976.49 433.69 L977.46 431.79 L978.44 429.89 L979.41 428.00 L980.38 426.10 L981.35 424.19 L982.32 422.29 L983.29 420.39 L984.25 418.49 L985.22 416.59 L986.19 414.69 L987.16 412.79 L988.13 410.88 L989.09 408.98 L990.06 407.08 L991.03 405.17 L992.00 403.27 L992.97 401.37 L993.94 399.46 L994.90 397.56 L995.87 395.66 L996.84 393.75 L997.82 391.85 L998.79 389.95 L999.76 388.05 L1000.74 386.14 L1001.71 384.24 L1002.69 382.34 L1003.66 380.44 L1004.64 378.53 L1005.62 376.63 L1006.60 374.73 L1007.59 372.83 L1008.57 370.93 L1009.56 369.04 L1010.55 367.14 L1011.55 365.25 L1012.55 363.36 L1013.56 361.48 L1014.57 359.60 L1015.59 357.72 L1016.61 355.85 L1017.64 353.99 L1018.68 352.13 L1019.73 350.28 L1020.78 348.44 L1021.85 346.60 L1022.92 344.77 L1024.01 342.95 L1025.11 341.14 L1026.21 339.34 L1027.33 337.55 L1028.46 335.76 L1029.60 333.99 L1030.76 332.23 L1031.92 330.47 L1033.09 328.71 L1034.27 326.96 L1035.46 325.21 L1036.65 323.46 L1037.86 321.72 L1039.06 319.97 L1040.28 318.22 L1041.50 316.46 L1042.72 314.70 L1043.94 312.94 L1045.17 311.16 L1046.40 309.38 L1047.64 307.60 L1048.88 305.81 L1050.13 304.03 L1051.39 302.25 L1052.66 300.48 L1053.95 298.71 L1055.25 296.96 L1056.56 295.23 L1057.89 293.51 L1059.24 291.81 L1060.61 290.14 L1062.01 288.49 L1063.42 286.87 L1064.87 285.28 L1066.33 283.73 L1067.83 282.21 L1069.36 280.73 L1070.92 279.29 L1072.51 277.90 L1074.13 276.55 L1075.79 275.26 L1077.49 274.01 L1079.23 272.82 L1081.01 271.69 L1082.82 270.62 L1084.67 269.60 L1086.56 268.65 L1088.47 267.76 L1090.41 266.92 L1092.38 266.15 L1094.38 265.44 L1096.40 264.80 L1098.44 264.22 L1100.49 263.71 L1102.57 263.26 L1104.65 262.88 L1106.75 262.57 L1108.86 262.33 L1110.98 262.15 L1113.10 262.05 L1115.23 262.02 L1117.35 262.06 L1119.48 262.17 L1121.60 262.35 L1123.73 262.59 L1125.85 262.90 L1127.96 263.25 L1130.07 263.66 L1132.17 264.11 L1134.27 264.60 L1136.36 265.13 L1138.44 265.68 L1140.52 266.26 L1142.58 266.86 L1144.64 267.49 L1146.68 268.14 L1148.72 268.81 L1150.75 269.50 L1152.78 270.22 L1154.79 270.95 L1156.80 271.70 L1158.79 272.48 L1160.79 273.27 L1162.77 274.07 L1164.75 274.90 L1166.71 275.74 L1168.68 276.60 L1170.63 277.47 L1172.58 278.36 L1174.52 279.25 L1176.45 280.17 L1178.38 281.09 L1180.31 282.03 L1182.22 282.97 L1184.13 283.93 L1186.04 284.90 L1187.93 285.87 L1189.83 286.86 L1191.71 287.85 L1193.60 288.86 L1195.47 289.87 L1197.35 290.89 L1199.21 291.92 L1201.08 292.95 L1202.94 294.00 L1204.79 295.05 L1206.64 296.11 L1208.49 297.17 L1210.33 298.24 L1212.17 299.32 L1214.00 300.40 L1215.84 301.49 L1217.67 302.58 L1219.49 303.68 L1221.32 304.78 L1223.14 305.89 L1224.95 307.00 L1226.77 308.12 L1228.58 309.24 L1230.40 310.36 L1232.21 311.49 L1234.02 312.62 L1235.82 313.75 L1237.63 314.88 L1239.43 316.02 L1241.24 317.16 L1243.04 318.30 L1244.84 319.44 L1246.64 320.58 L1248.45 321.72 L1250.25 322.86 L1252.05 324.01 L1253.85 325.15 L1255.65 326.29 L1257.45 327.43 L1259.26 328.57 L1261.06 329.71 L1262.86 330.85 L1264.67 331.99 L1266.48 333.12 L1268.28 334.25 L1270.09 335.38 L1271.90 336.51 L1273.72 337.63 L1275.53 338.75 L1277.35 339.87 L1279.17 340.98 L1280.99 342.09 L1282.82 343.20 L1284.65 344.30 L1286.48 345.39 L1288.31 346.48 L1290.15 347.57 L1291.99 348.64 L1293.84 349.72 L1295.69 350.78 L1297.54 351.84 L1299.40 352.89 L1301.26 353.94 L1303.13 354.98 L1305.00 356.01 L1306.87 357.03 L1308.75 358.05 L1310.64 359.05 L1312.53 360.05 L1314.43 361.04 L1316.33 362.02 L1318.24 362.98 L1320.15 363.94 L1322.07 364.89" stroke="#008080" stroke-width="9.0" fill="none" stroke-linejoin="round" stroke-linecap="round" clip-path="url(#clipb)"/>
<path d="M838.70 486.20v-7.5M838.70 15.10v7.5M869.76 486.20v-7.5M869.76 15.10v7.5M891.80 486.20v-7.5M891.80 15.10v7.5M908.90 486.20v-7.5M908.90 15.10v7.5M922.87 486.20v-7.5M922.87 15.10v7.5M934.68 486.20v-7.5M934.68 15.10v7.5M944.91 486.20v-7.5M944.91 15.10v7.5M953.93 486.20v-7.5M953.93 15.10v7.5M962.00 486.20v-15M962.00 15.10v15M1015.10 486.20v-7.5M1015.10 15.10v7.5M1046.16 486.20v-7.5M1046.16 15.10v7.5M1068.20 486.20v-7.5M1068.20 15.10v7.5M1085.30 486.20v-7.5M1085.30 15.10v7.5M1099.27 486.20v-7.5M1099.27 15.10v7.5M1111.08 486.20v-7.5M1111.08 15.10v7.5M1121.31 486.20v-7.5M1121.31 15.10v7.5M1130.33 486.20v-7.5M1130.33 15.10v7.5M1138.40 486.20v-15M1138.40 15.10v15M1191.50 486.20v-7.5M1191.50 15.10v7.5M1222.56 486.20v-7.5M1222.56 15.10v7.5M1244.60 486.20v-7.5M1244.60 15.10v7.5M1261.70 486.20v-7.5M1261.70 15.10v7.5M1275.67 486.20v-7.5M1275.67 15.10v7.5M1287.48 486.20v-7.5M1287.48 15.10v7.5M1297.71 486.20v-7.5M1297.71 15.10v7.5M1306.73 486.20v-7.5M1306.73 15.10v7.5M785.60 368.43h15M1314.80 368.43h-15M785.60 250.65h15M1314.80 250.65h-15M785.60 132.88h15M1314.80 132.88h-15M785.60 427.31h7.5M1314.80 427.31h-7.5M785.60 309.54h7.5M1314.80 309.54h-7.5M785.60 191.76h7.5M1314.80 191.76h-7.5M785.60 73.99h7.5M1314.80 73.99h-7.5" stroke="#000" stroke-width="1.8" fill="none"/>
<rect x="785.60" y="15.10" width="529.20" height="471.10" stroke="#000" stroke-width="1.8" fill="none"/>
<line x1="1081.30" y1="74.10" x2="1171.30" y2="74.10" stroke="#FF8000" stroke-width="9.0" stroke-linecap="round"/>
<text transform="matrix(1 0 0 1.04 0 -3.484)" x="1189.29" y="87.10" font-size="40.0">300 K</text>
<line x1="1081.30" y1="123.20" x2="1171.30" y2="123.20" stroke="#800000" stroke-width="9.0" stroke-linecap="round"/>
<text transform="matrix(1 0 0 1.04 0 -5.448)" x="1188.88" y="136.20" font-size="40.0">500 K</text>
<line x1="1081.30" y1="172.60" x2="1171.30" y2="172.60" stroke="#008080" stroke-width="9.0" stroke-linecap="round"/>
<text transform="matrix(1 0 0 1.04 0 -7.424)" x="1188.56" y="185.60" font-size="40.0">700 K</text>
<text transform="matrix(1 0 0 1.04 0 -2.644)" x="800.40" y="66.10" font-size="37.5">p-type,Na</text>
<text transform="matrix(1 0 0 1.04 0 -3.020)" x="955.37" y="75.50" font-size="25.7">2</text>
<text transform="matrix(1 0 0 1.04 0 -2.644)" x="971.02" y="66.10" font-size="37.5">TlSb</text>
<text transform="matrix(1 0 0 1.04 0 -21.624)" x="751.85" y="540.60" font-size="40.5">10</text>
<text transform="matrix(1 0 0 1.04 0 -20.944)" x="792.35" y="523.60" font-size="27.0">18</text>
<text transform="matrix(1 0 0 1.04 0 -21.624)" x="928.25" y="540.60" font-size="40.5">10</text>
<text transform="matrix(1 0 0 1.04 0 -20.944)" x="968.75" y="523.60" font-size="27.0">19</text>
<text transform="matrix(1 0 0 1.04 0 -21.624)" x="1104.65" y="540.60" font-size="40.5">10</text>
<text transform="matrix(1 0 0 1.04 0 -20.944)" x="1145.15" y="523.60" font-size="27.0">20</text>
<text transform="matrix(1 0 0 1.04 0 -21.624)" x="1281.05" y="540.60" font-size="40.5">10</text>
<text transform="matrix(1 0 0 1.04 0 -20.944)" x="1321.55" y="523.60" font-size="27.0">21</text>
<text transform="matrix(1 0 0 1.04 0 -23.192)" x="975.66" y="579.80" font-size="40.5" font-style="italic">n</text>
<text transform="matrix(1 0 0 1.04 0 -23.616)" x="997.64" y="590.40" font-size="27.0">h</text>
<text transform="matrix(1 0 0 1.04 0 -23.192)" x="1022.02" y="579.80" font-size="40.5">(cm</text>
<text transform="matrix(1 0 0 1.04 0 -22.516)" x="1086.00" y="562.90" font-size="27.0">-3</text>
<text transform="matrix(1 0 0 1.04 0 -23.192)" x="1108.49" y="579.80" font-size="40.5">)</text>
<text transform="matrix(1 0 0 1.04 0 -19.964)" x="766.70" y="499.10" font-size="40.5" text-anchor="end">0.0</text>
<text transform="matrix(1 0 0 1.04 0 -15.253)" x="766.70" y="381.32" font-size="40.5" text-anchor="end">0.2</text>
<text transform="matrix(1 0 0 1.04 0 -10.542)" x="766.70" y="263.55" font-size="40.5" text-anchor="end">0.4</text>
<text transform="matrix(1 0 0 1.04 0 -5.831)" x="766.70" y="145.78" font-size="40.5" text-anchor="end">0.6</text>
<text transform="matrix(1 0 0 1.04 0 -1.120)" x="766.70" y="28.00" font-size="40.5" text-anchor="end">0.8</text>
<text transform="matrix(1 0 0 1.04 0 -13.740) rotate(-90)" x="-346.55" y="698.50" font-size="40.5">|</text>
<text transform="matrix(1 0 0 1.04 0 -13.520) rotate(-90)" x="-338.47" y="698.50" font-size="40.5" font-style="italic">S</text>
<text transform="matrix(1 0 0 1.04 0 -12.568) rotate(-90)" x="-317.25" y="698.50" font-size="40.5">|</text>
<text transform="matrix(1 0 0 1.04 0 -11.896) rotate(-90)" x="-299.18" y="698.50" font-size="40.5">(mVK</text>
<text transform="matrix(1 0 0 1.04 0 -7.640) rotate(-90)" x="-192.00" y="682.00" font-size="27.0">-1</text>
<text transform="matrix(1 0 0 1.04 0 -6.708) rotate(-90)" x="-169.01" y="698.50" font-size="40.5">)</text>
<text transform="matrix(1 0 0 1.04 0 -1.740)" x="667.52" y="43.50" font-size="37.5" font-weight="bold">b</text>
<path d="M118.02 1073.35 L121.08 1073.29 L124.14 1073.24 L127.20 1073.19 L130.26 1073.15 L133.32 1073.11 L136.39 1073.07 L139.45 1073.04 L142.52 1073.01 L145.59 1072.98 L148.66 1072.96 L151.73 1072.93 L154.80 1072.91 L157.87 1072.90 L160.94 1072.88 L164.02 1072.86 L167.09 1072.85 L170.17 1072.84 L173.25 1072.82 L176.33 1072.81 L179.40 1072.80 L182.48 1072.78 L185.56 1072.77 L188.64 1072.75 L191.72 1072.74 L194.80 1072.72 L197.88 1072.70 L200.97 1072.68 L204.05 1072.66 L207.13 1072.63 L210.21 1072.60 L213.29 1072.57 L216.38 1072.53 L219.46 1072.49 L222.54 1072.45 L225.62 1072.40 L228.70 1072.35 L231.79 1072.30 L234.87 1072.24 L237.95 1072.17 L241.03 1072.10 L244.11 1072.02 L247.19 1071.94 L250.27 1071.85 L253.35 1071.75 L256.42 1071.65 L259.50 1071.54 L262.58 1071.42 L265.65 1071.30 L268.73 1071.16 L271.80 1071.02 L274.88 1070.87 L277.95 1070.71 L281.02 1070.54 L284.09 1070.37 L287.16 1070.18 L290.23 1069.98 L293.29 1069.78 L296.36 1069.56 L299.42 1069.33 L302.48 1069.09 L305.54 1068.84 L308.60 1068.58 L311.66 1068.31 L314.72 1068.03 L317.77 1067.73 L320.82 1067.42 L323.87 1067.10 L326.92 1066.76 L329.97 1066.41 L333.02 1066.05 L336.06 1065.67 L339.10 1065.28 L342.14 1064.88 L345.18 1064.46 L348.21 1064.02 L351.24 1063.57 L354.27 1063.11 L357.30 1062.63 L360.33 1062.13 L363.35 1061.62 L366.37 1061.09 L369.39 1060.54 L372.40 1059.97 L375.42 1059.39 L378.43 1058.79 L381.43 1058.18 L384.44 1057.54 L387.44 1056.89 L390.44 1056.21 L393.43 1055.52 L396.43 1054.81 L399.42 1054.08 L402.40 1053.33 L405.39 1052.56 L408.37 1051.77 L411.34 1050.96 L414.32 1050.12 L417.29 1049.27 L420.25 1048.39 L423.22 1047.50 L426.18 1046.58 L429.13 1045.65 L432.08 1044.71 L435.03 1043.75 L437.97 1042.79 L440.91 1041.81 L443.84 1040.84 L446.77 1039.85 L449.69 1038.87 L452.61 1037.89 L455.52 1036.91 L458.42 1035.92 L461.31 1034.92 L464.18 1033.88 L467.02 1032.81 L469.84 1031.69 L472.63 1030.50 L475.38 1029.24 L478.09 1027.89 L480.76 1026.46 L483.40 1024.95 L486.00 1023.36 L488.57 1021.71 L491.11 1020.01 L493.62 1018.25 L496.11 1016.45 L498.59 1014.61 L501.05 1012.74 L503.49 1010.85 L505.93 1008.94 L508.35 1007.01 L510.76 1005.07 L513.16 1003.12 L515.53 1001.13 L517.88 999.13 L520.20 997.09 L522.48 995.03 L524.74 992.92 L526.95 990.78 L529.11 988.60 L531.23 986.37 L533.30 984.10 L535.32 981.78 L537.29 979.42 L539.23 977.02 L541.12 974.58 L542.97 972.12 L544.80 969.63 L546.59 967.12 L548.36 964.59 L550.11 962.05 L551.84 959.49 L553.55 956.93 L555.24 954.35 L556.91 951.77 L558.57 949.18 L560.21 946.57 L561.84 943.96 L563.44 941.34 L565.03 938.71 L566.60 936.07 L568.16 933.42 L569.70 930.76 L571.22 928.09 L572.72 925.42 L574.21 922.73 L575.69 920.04 L577.14 917.34 L578.59 914.63 L580.01 911.92 L581.43 909.19 L582.82 906.46 L584.20 903.72 L585.57 900.97 L586.92 898.22 L588.26 895.46 L589.58 892.69 L590.88 889.91 L592.18 887.13 L593.46 884.34 L594.72 881.54 L595.97 878.74 L597.21 875.93 L598.43 873.12 L599.64 870.29 L600.84 867.47 L602.02 864.63 L603.19 861.79 L604.35 858.95 L605.50 856.09 L606.63 853.24 L607.75 850.37 L608.86 847.51 L609.95 844.63 L611.04 841.75 L612.11 838.87 L613.17 835.98 L614.22 833.09 L615.26 830.19 L616.28 827.29 L617.30 824.38 L618.30 821.47 L619.29 818.56 L620.27 815.64 L621.25 812.72 L622.21 809.79 L623.16 806.86 L624.10 803.93 L625.03 800.99 L625.95 798.05 L626.86 795.11 L627.76 792.16 L628.65 789.21 L629.53 786.26 L630.41 783.30 L631.27 780.34 L632.13 777.38 L632.97 774.42 L633.81 771.46 L634.64 768.49 L635.46 765.52 L636.28 762.55 L637.08 759.57 L637.88 756.60 L638.67 753.62 L639.45 750.64 L640.22 747.66 L640.99 744.68 L641.75 741.70 L642.50 738.72 L643.25 735.74 L643.99 732.75 L644.72 729.77 L645.45 726.78 L646.17 723.79 L646.88 720.81 L647.59 717.82 L648.29 714.83 L648.98 711.85 L649.67 708.86 L650.36 705.88 L651.04 702.89 L651.71 699.90 L652.38 696.92 L653.04 693.94 L653.70 690.95 L654.36 687.97 L655.01 684.99 L655.65 682.01" stroke="#FF8000" stroke-width="9.0" fill="none" stroke-linejoin="round" stroke-linecap="round" clip-path="url(#clipc)"/>
<path d="M118.07 1036.19 L121.19 1035.90 L124.31 1035.61 L127.45 1035.29 L130.59 1034.96 L133.74 1034.62 L136.89 1034.27 L140.05 1033.92 L143.21 1033.56 L146.38 1033.20 L149.56 1032.85 L152.73 1032.50 L155.91 1032.15 L159.10 1031.82 L162.28 1031.50 L165.47 1031.19 L168.66 1030.90 L171.85 1030.63 L175.03 1030.38 L178.22 1030.15 L181.41 1029.96 L184.59 1029.79 L187.78 1029.66 L190.96 1029.56 L194.14 1029.50 L197.31 1029.48 L200.48 1029.50 L203.65 1029.56 L206.81 1029.68 L209.97 1029.84 L213.12 1030.04 L216.27 1030.29 L219.41 1030.58 L222.55 1030.90 L225.69 1031.26 L228.83 1031.65 L231.96 1032.07 L235.09 1032.52 L238.22 1032.99 L241.35 1033.49 L244.48 1034.01 L247.61 1034.55 L250.73 1035.10 L253.86 1035.67 L256.99 1036.26 L260.12 1036.85 L263.25 1037.45 L266.38 1038.05 L269.51 1038.66 L272.65 1039.27 L275.79 1039.88 L278.93 1040.48 L282.07 1041.09 L285.22 1041.68 L288.36 1042.27 L291.51 1042.86 L294.67 1043.43 L297.82 1044.00 L300.97 1044.55 L304.13 1045.09 L307.29 1045.62 L310.45 1046.13 L313.61 1046.63 L316.77 1047.11 L319.93 1047.57 L323.09 1048.02 L326.26 1048.44 L329.42 1048.84 L332.58 1049.22 L335.75 1049.57 L338.91 1049.89 L342.08 1050.19 L345.24 1050.47 L348.40 1050.71 L351.57 1050.92 L354.73 1051.10 L357.89 1051.25 L361.05 1051.36 L364.21 1051.44 L367.37 1051.48 L370.52 1051.49 L373.68 1051.45 L376.83 1051.38 L379.99 1051.26 L383.14 1051.10 L386.28 1050.90 L389.43 1050.65 L392.58 1050.35 L395.72 1050.01 L398.86 1049.62 L401.99 1049.18 L405.13 1048.69 L408.25 1048.14 L411.37 1047.54 L414.48 1046.88 L417.58 1046.16 L420.66 1045.38 L423.73 1044.54 L426.78 1043.64 L429.82 1042.70 L432.86 1041.74 L435.89 1040.77 L438.93 1039.80 L441.99 1038.85 L445.05 1037.93 L448.13 1037.06 L451.23 1036.23 L454.35 1035.44 L457.46 1034.66 L460.55 1033.85 L463.62 1033.00 L466.65 1032.08 L469.64 1031.06 L472.56 1029.93 L475.41 1028.64 L478.18 1027.20 L480.88 1025.61 L483.52 1023.90 L486.10 1022.07 L488.64 1020.15 L491.15 1018.16 L493.62 1016.12 L496.08 1014.03 L498.53 1011.93 L500.99 1009.82 L503.45 1007.73 L505.92 1005.67 L508.40 1003.62 L510.87 1001.57 L513.34 999.53 L515.80 997.49 L518.23 995.42 L520.64 993.34 L523.01 991.24 L525.34 989.10 L527.63 986.91 L529.87 984.68 L532.04 982.40 L534.17 980.06 L536.24 977.68 L538.27 975.25 L540.25 972.78 L542.18 970.28 L544.08 967.73 L545.93 965.16 L547.75 962.55 L549.53 959.91 L551.28 957.25 L553.01 954.57 L554.71 951.86 L556.38 949.14 L558.03 946.41 L559.66 943.66 L561.28 940.91 L562.88 938.15 L564.47 935.38 L566.03 932.60 L567.59 929.81 L569.12 927.02 L570.65 924.22 L572.15 921.41 L573.64 918.59 L575.12 915.77 L576.58 912.94 L578.02 910.10 L579.45 907.26 L580.86 904.41 L582.26 901.55 L583.64 898.68 L585.00 895.81 L586.35 892.93 L587.69 890.05 L589.01 887.15 L590.31 884.26 L591.60 881.35 L592.88 878.44 L594.14 875.52 L595.38 872.60 L596.61 869.67 L597.82 866.73 L599.02 863.79 L600.20 860.84 L601.37 857.89 L602.53 854.93 L603.66 851.96 L604.79 848.99 L605.90 846.02 L606.99 843.04 L608.07 840.05 L609.14 837.06 L610.19 834.06 L611.23 831.06 L612.26 828.05 L613.27 825.04 L614.27 822.02 L615.26 819.00 L616.24 815.98 L617.20 812.95 L618.15 809.92 L619.09 806.88 L620.02 803.84 L620.93 800.79 L621.84 797.74 L622.73 794.69 L623.61 791.63 L624.48 788.57 L625.34 785.51 L626.19 782.44 L627.03 779.37 L627.86 776.30 L628.68 773.22 L629.49 770.14 L630.29 767.06 L631.08 763.98 L631.87 760.89 L632.64 757.80 L633.41 754.71 L634.16 751.62 L634.91 748.52 L635.65 745.42 L636.38 742.32 L637.11 739.22 L637.83 736.12 L638.54 733.01 L639.24 729.91 L639.94 726.80 L640.62 723.69 L641.31 720.58 L641.98 717.47 L642.65 714.36 L643.32 711.24 L643.98 708.13 L644.63 705.01 L645.28 701.90 L645.92 698.78 L646.56 695.66 L647.19 692.55 L647.82 689.43 L648.45 686.31 L649.07 683.20 L649.68 680.08 L650.29 676.97 L650.90 673.85 L651.51 670.73 L652.11 667.62 L652.71 664.50 L653.31 661.39 L653.90 658.28 L654.49 655.17 L655.08 652.06" stroke="#008080" stroke-width="9.0" fill="none" stroke-linejoin="round" stroke-linecap="round" clip-path="url(#clipc)"/>
<path d="M118.02 955.68 L120.99 955.35 L123.97 955.03 L126.94 954.70 L129.91 954.38 L132.89 954.05 L135.86 953.71 L138.84 953.38 L141.81 953.04 L144.79 952.70 L147.77 952.36 L150.74 952.01 L153.72 951.65 L156.69 951.29 L159.67 950.92 L162.64 950.55 L165.62 950.17 L168.59 949.78 L171.56 949.38 L174.53 948.97 L177.50 948.56 L180.47 948.13 L183.43 947.70 L186.40 947.25 L189.36 946.79 L192.32 946.32 L195.28 945.84 L198.23 945.35 L201.19 944.84 L204.14 944.32 L207.08 943.78 L210.03 943.23 L212.97 942.67 L215.91 942.08 L218.85 941.49 L221.78 940.87 L224.71 940.25 L227.64 939.60 L230.56 938.94 L233.48 938.27 L236.39 937.58 L239.30 936.87 L242.20 936.14 L245.11 935.41 L248.00 934.66 L250.90 933.90 L253.80 933.14 L256.69 932.39 L259.59 931.64 L262.48 930.91 L265.39 930.19 L268.29 929.50 L271.20 928.83 L274.12 928.20 L277.04 927.60 L279.98 927.04 L282.92 926.51 L285.87 926.03 L288.83 925.60 L291.79 925.22 L294.77 924.88 L297.76 924.60 L300.75 924.38 L303.76 924.22 L306.77 924.11 L309.79 924.06 L312.82 924.08 L315.84 924.14 L318.87 924.27 L321.89 924.46 L324.91 924.71 L327.92 925.01 L330.92 925.37 L333.90 925.79 L336.88 926.27 L339.84 926.81 L342.78 927.41 L345.70 928.06 L348.60 928.78 L351.48 929.55 L354.33 930.38 L357.15 931.27 L359.95 932.22 L362.73 933.22 L365.49 934.27 L368.22 935.37 L370.94 936.52 L373.64 937.72 L376.32 938.96 L378.98 940.25 L381.63 941.58 L384.26 942.96 L386.89 944.37 L389.49 945.83 L392.09 947.32 L394.68 948.84 L397.26 950.41 L399.83 952.00 L402.39 953.62 L404.95 955.28 L407.51 956.96 L410.06 958.66 L412.61 960.39 L415.15 962.12 L417.70 963.86 L420.25 965.60 L422.81 967.32 L425.37 969.02 L427.95 970.70 L430.53 972.35 L433.12 973.95 L435.72 975.51 L438.34 977.01 L440.98 978.45 L443.63 979.82 L446.31 981.11 L449.00 982.32 L451.72 983.43 L454.46 984.45 L457.22 985.36 L460.02 986.15 L462.84 986.82 L465.70 987.37 L468.57 987.79 L471.47 988.07 L474.39 988.22 L477.32 988.24 L480.27 988.13 L483.22 987.89 L486.17 987.53 L489.12 987.06 L492.07 986.47 L495.01 985.78 L497.94 984.99 L500.86 984.11 L503.75 983.14 L506.62 982.09 L509.47 980.95 L512.29 979.75 L515.07 978.48 L517.82 977.14 L520.52 975.75 L523.19 974.30 L525.82 972.79 L528.41 971.23 L530.96 969.61 L533.48 967.95 L535.95 966.23 L538.38 964.46 L540.78 962.65 L543.13 960.78 L545.44 958.88 L547.72 956.93 L549.95 954.94 L552.14 952.90 L554.29 950.83 L556.40 948.72 L558.47 946.58 L560.50 944.40 L562.49 942.18 L564.44 939.93 L566.34 937.65 L568.21 935.34 L570.04 933.00 L571.84 930.64 L573.60 928.24 L575.32 925.81 L577.01 923.36 L578.67 920.89 L580.29 918.39 L581.88 915.86 L583.44 913.32 L584.97 910.75 L586.47 908.16 L587.94 905.55 L589.39 902.93 L590.81 900.28 L592.20 897.62 L593.56 894.94 L594.90 892.25 L596.22 889.55 L597.52 886.83 L598.79 884.09 L600.04 881.35 L601.27 878.60 L602.49 875.83 L603.68 873.06 L604.86 870.28 L606.01 867.49 L607.16 864.70 L608.28 861.91 L609.40 859.10 L610.49 856.30 L611.58 853.49 L612.65 850.68 L613.71 847.87 L614.75 845.06 L615.79 842.24 L616.81 839.42 L617.81 836.59 L618.81 833.76 L619.79 830.93 L620.76 828.10 L621.72 825.27 L622.67 822.43 L623.61 819.59 L624.53 816.74 L625.44 813.89 L626.35 811.04 L627.24 808.19 L628.12 805.34 L628.99 802.48 L629.85 799.62 L630.70 796.75 L631.54 793.89 L632.37 791.02 L633.19 788.15 L634.00 785.27 L634.80 782.40 L635.59 779.52 L636.38 776.63 L637.15 773.75 L637.92 770.86 L638.68 767.97 L639.43 765.08 L640.17 762.18 L640.90 759.29 L641.63 756.38 L642.34 753.48 L643.05 750.58 L643.76 747.67 L644.45 744.76 L645.14 741.84 L645.83 738.93 L646.50 736.01 L647.17 733.09 L647.83 730.16 L648.49 727.24 L649.14 724.31 L649.79 721.38 L650.43 718.44 L651.06 715.51 L651.69 712.57 L652.31 709.63 L652.93 706.68 L653.55 703.74 L654.16 700.79 L654.76 697.84 L655.36 694.89 L655.96 691.93" stroke="#8000FF" stroke-width="9.0" fill="none" stroke-linejoin="round" stroke-linecap="round" clip-path="url(#clipc)"/>
<path d="M179.37 1074.40v-7.5M179.37 603.90v7.5M210.48 1074.40v-7.5M210.48 603.90v7.5M232.54 1074.40v-7.5M232.54 603.90v7.5M249.66 1074.40v-7.5M249.66 603.90v7.5M263.65 1074.40v-7.5M263.65 603.90v7.5M275.47 1074.40v-7.5M275.47 603.90v7.5M285.72 1074.40v-7.5M285.72 603.90v7.5M294.75 1074.40v-7.5M294.75 603.90v7.5M302.83 1074.40v-15M302.83 603.90v15M356.01 1074.40v-7.5M356.01 603.90v7.5M387.11 1074.40v-7.5M387.11 603.90v7.5M409.18 1074.40v-7.5M409.18 603.90v7.5M426.29 1074.40v-7.5M426.29 603.90v7.5M440.28 1074.40v-7.5M440.28 603.90v7.5M452.11 1074.40v-7.5M452.11 603.90v7.5M462.35 1074.40v-7.5M462.35 603.90v7.5M471.38 1074.40v-7.5M471.38 603.90v7.5M479.47 1074.40v-15M479.47 603.90v15M532.64 1074.40v-7.5M532.64 603.90v7.5M563.74 1074.40v-7.5M563.74 603.90v7.5M585.81 1074.40v-7.5M585.81 603.90v7.5M602.93 1074.40v-7.5M602.93 603.90v7.5M616.91 1074.40v-7.5M616.91 603.90v7.5M628.74 1074.40v-7.5M628.74 603.90v7.5M638.98 1074.40v-7.5M638.98 603.90v7.5M648.02 1074.40v-7.5M648.02 603.90v7.5M126.20 939.97h15M656.10 939.97h-15M126.20 805.54h15M656.10 805.54h-15M126.20 671.11h15M656.10 671.11h-15M126.20 1007.19h7.5M656.10 1007.19h-7.5M126.20 872.76h7.5M656.10 872.76h-7.5M126.20 738.33h7.5M656.10 738.33h-7.5" stroke="#000" stroke-width="1.8" fill="none"/>
<rect x="126.20" y="603.90" width="529.90" height="470.50" stroke="#000" stroke-width="1.8" fill="none"/>
<line x1="151.70" y1="747.30" x2="241.60" y2="747.30" stroke="#FF8000" stroke-width="9.0" stroke-linecap="round"/>
<text transform="matrix(1 0 0 1.04 0 -30.420)" x="259.79" y="760.50" font-size="40.0">300 K</text>
<line x1="151.70" y1="797.00" x2="241.60" y2="797.00" stroke="#008080" stroke-width="9.0" stroke-linecap="round"/>
<text transform="matrix(1 0 0 1.04 0 -32.408)" x="259.38" y="810.20" font-size="40.0">500 K</text>
<line x1="151.70" y1="846.40" x2="241.60" y2="846.40" stroke="#8000FF" stroke-width="9.0" stroke-linecap="round"/>
<text transform="matrix(1 0 0 1.04 0 -34.384)" x="259.06" y="859.60" font-size="40.0">700 K</text>
<text transform="matrix(1 0 0 1.04 0 -27.124)" x="276.50" y="678.10" font-size="37.5">p-type,Na</text>
<text transform="matrix(1 0 0 1.04 0 -27.500)" x="431.47" y="687.50" font-size="25.7">2</text>
<text transform="matrix(1 0 0 1.04 0 -27.124)" x="447.12" y="678.10" font-size="37.5">TlSb</text>
<text transform="matrix(1 0 0 1.04 0 -45.152)" x="92.45" y="1128.80" font-size="40.5">10</text>
<text transform="matrix(1 0 0 1.04 0 -44.472)" x="132.95" y="1111.80" font-size="27.0">18</text>
<text transform="matrix(1 0 0 1.04 0 -45.152)" x="269.08" y="1128.80" font-size="40.5">10</text>
<text transform="matrix(1 0 0 1.04 0 -44.472)" x="309.58" y="1111.80" font-size="27.0">19</text>
<text transform="matrix(1 0 0 1.04 0 -45.152)" x="445.72" y="1128.80" font-size="40.5">10</text>
<text transform="matrix(1 0 0 1.04 0 -44.472)" x="486.22" y="1111.80" font-size="27.0">20</text>
<text transform="matrix(1 0 0 1.04 0 -45.152)" x="622.35" y="1128.80" font-size="40.5">10</text>
<text transform="matrix(1 0 0 1.04 0 -44.472)" x="662.85" y="1111.80" font-size="27.0">21</text>
<text transform="matrix(1 0 0 1.04 0 -46.720)" x="310.56" y="1168.00" font-size="40.5" font-style="italic">n</text>
<text transform="matrix(1 0 0 1.04 0 -47.144)" x="332.54" y="1178.60" font-size="27.0">h</text>
<text transform="matrix(1 0 0 1.04 0 -46.720)" x="356.92" y="1168.00" font-size="40.5">(cm</text>
<text transform="matrix(1 0 0 1.04 0 -46.044)" x="420.90" y="1151.10" font-size="27.0">-3</text>
<text transform="matrix(1 0 0 1.04 0 -46.720)" x="443.39" y="1168.00" font-size="40.5">)</text>
<text transform="matrix(1 0 0 1.04 0 -43.464)" x="110.50" y="1086.60" font-size="40.5" text-anchor="end">0</text>
<text transform="matrix(1 0 0 1.04 0 -38.087)" x="110.50" y="952.17" font-size="40.5" text-anchor="end">4</text>
<text transform="matrix(1 0 0 1.04 0 -32.710)" x="110.50" y="817.74" font-size="40.5" text-anchor="end">8</text>
<text transform="matrix(1 0 0 1.04 0 -27.333)" x="110.50" y="683.31" font-size="40.5" text-anchor="end">12</text>
<text transform="matrix(1 0 0 1.04 0 -37.840) rotate(-90)" x="-947.48" y="43.20" font-size="40.5" font-style="italic">κ</text>
<text transform="matrix(1 0 0 1.04 0 -37.028) rotate(-90)" x="-926.75" y="54.60" font-size="27.0">e</text>
<text transform="matrix(1 0 0 1.04 0 -36.096) rotate(-90)" x="-904.18" y="43.20" font-size="40.5">(Wm</text>
<text transform="matrix(1 0 0 1.04 0 -32.676) rotate(-90)" x="-817.90" y="26.00" font-size="27.0">-1</text>
<text transform="matrix(1 0 0 1.04 0 -31.788) rotate(-90)" x="-795.87" y="43.20" font-size="40.5">K</text>
<text transform="matrix(1 0 0 1.04 0 -30.568) rotate(-90)" x="-765.20" y="26.00" font-size="27.0">-1</text>
<text transform="matrix(1 0 0 1.04 0 -29.656) rotate(-90)" x="-742.71" y="43.20" font-size="40.5">)</text>
<text transform="matrix(1 0 0 1.04 0 -25.392)" x="22.62" y="634.80" font-size="37.5" font-weight="bold">c</text>
<path d="M778.04 1065.21 L780.49 1064.87 L782.94 1064.55 L785.40 1064.22 L787.86 1063.91 L790.33 1063.60 L792.80 1063.30 L795.27 1063.00 L797.75 1062.71 L800.23 1062.42 L802.71 1062.13 L805.19 1061.84 L807.68 1061.56 L810.17 1061.28 L812.66 1061.00 L815.15 1060.71 L817.65 1060.43 L820.14 1060.15 L822.64 1059.86 L825.13 1059.57 L827.63 1059.28 L830.13 1058.98 L832.62 1058.68 L835.12 1058.38 L837.62 1058.07 L840.11 1057.75 L842.61 1057.43 L845.10 1057.09 L847.59 1056.75 L850.08 1056.40 L852.57 1056.05 L855.05 1055.68 L857.53 1055.30 L860.01 1054.91 L862.49 1054.51 L864.96 1054.09 L867.43 1053.66 L869.90 1053.22 L872.36 1052.76 L874.82 1052.29 L877.27 1051.81 L879.72 1051.30 L882.16 1050.78 L884.60 1050.24 L887.03 1049.69 L889.46 1049.12 L891.89 1048.53 L894.31 1047.93 L896.72 1047.31 L899.13 1046.67 L901.53 1046.02 L903.94 1045.36 L906.33 1044.68 L908.73 1043.99 L911.12 1043.29 L913.50 1042.57 L915.89 1041.84 L918.27 1041.10 L920.64 1040.35 L923.01 1039.58 L925.39 1038.81 L927.75 1038.02 L930.12 1037.23 L932.48 1036.42 L934.84 1035.60 L937.20 1034.78 L939.55 1033.95 L941.91 1033.10 L944.26 1032.26 L946.61 1031.40 L948.96 1030.53 L951.31 1029.66 L953.65 1028.79 L956.00 1027.90 L958.34 1027.01 L960.69 1026.12 L963.03 1025.22 L965.37 1024.32 L967.71 1023.41 L970.05 1022.49 L972.39 1021.57 L974.72 1020.64 L977.05 1019.70 L979.38 1018.76 L981.71 1017.81 L984.03 1016.85 L986.35 1015.88 L988.66 1014.90 L990.97 1013.92 L993.28 1012.92 L995.58 1011.92 L997.88 1010.90 L1000.17 1009.88 L1002.45 1008.84 L1004.73 1007.79 L1007.00 1006.73 L1009.27 1005.66 L1011.53 1004.58 L1013.78 1003.48 L1016.03 1002.38 L1018.26 1001.25 L1020.49 1000.12 L1022.71 998.97 L1024.93 997.81 L1027.13 996.63 L1029.33 995.44 L1031.51 994.23 L1033.69 993.01 L1035.85 991.77 L1038.01 990.51 L1040.16 989.24 L1042.29 987.95 L1044.41 986.65 L1046.53 985.33 L1048.63 983.99 L1050.72 982.64 L1052.81 981.27 L1054.88 979.89 L1056.95 978.49 L1059.00 977.08 L1061.05 975.65 L1063.09 974.22 L1065.12 972.77 L1067.15 971.31 L1069.16 969.84 L1071.17 968.36 L1073.17 966.86 L1075.17 965.36 L1077.16 963.85 L1079.14 962.33 L1081.12 960.80 L1083.09 959.26 L1085.06 957.71 L1087.02 956.16 L1088.98 954.60 L1090.93 953.03 L1092.88 951.46 L1094.83 949.89 L1096.77 948.30 L1098.71 946.72 L1100.65 945.13 L1102.58 943.53 L1104.52 941.94 L1106.45 940.34 L1108.37 938.74 L1110.30 937.13 L1112.23 935.53 L1114.15 933.92 L1116.07 932.32 L1118.00 930.71 L1119.92 929.11 L1121.85 927.51 L1123.77 925.91 L1125.70 924.31 L1127.62 922.71 L1129.55 921.11 L1131.47 919.51 L1133.40 917.91 L1135.32 916.32 L1137.24 914.72 L1139.16 913.12 L1141.08 911.51 L1143.00 909.91 L1144.91 908.30 L1146.82 906.69 L1148.73 905.08 L1150.63 903.46 L1152.53 901.84 L1154.43 900.21 L1156.32 898.58 L1158.20 896.94 L1160.08 895.30 L1161.96 893.65 L1163.83 891.99 L1165.69 890.33 L1167.55 888.66 L1169.40 886.98 L1171.24 885.29 L1173.08 883.59 L1174.91 881.89 L1176.73 880.17 L1178.54 878.45 L1180.35 876.72 L1182.15 874.98 L1183.94 873.23 L1185.72 871.47 L1187.49 869.70 L1189.26 867.93 L1191.01 866.14 L1192.76 864.35 L1194.49 862.55 L1196.22 860.74 L1197.94 858.92 L1199.65 857.10 L1201.35 855.26 L1203.04 853.42 L1204.72 851.57 L1206.40 849.72 L1208.08 847.87 L1209.75 846.02 L1211.42 844.16 L1213.10 842.31 L1214.78 840.47 L1216.46 838.63 L1218.15 836.79 L1219.85 834.97 L1221.56 833.16 L1223.29 831.35 L1225.02 829.56 L1226.77 827.79 L1228.54 826.03 L1230.32 824.29 L1232.13 822.58 L1233.95 820.88 L1235.80 819.20 L1237.68 817.55 L1239.58 815.93 L1241.51 814.33 L1243.47 812.76 L1245.46 811.22 L1247.48 809.72 L1249.52 808.24 L1251.59 806.80 L1253.68 805.39 L1255.79 804.02 L1257.93 802.68 L1260.10 801.38 L1262.28 800.12 L1264.49 798.89 L1266.72 797.71 L1268.96 796.57 L1271.23 795.47 L1273.51 794.41 L1275.81 793.40 L1278.13 792.43 L1280.46 791.51 L1282.81 790.63 L1285.18 789.81 L1287.55 789.06 L1289.94 788.39 L1292.35 787.82 L1294.77 787.36 L1297.20 787.03 L1299.64 786.84 L1302.09 786.81 L1304.55 786.94 L1307.03 787.26 L1309.52 787.77 L1312.01 788.50 L1314.52 789.45" stroke="#FF8000" stroke-width="9.0" fill="none" stroke-linejoin="round" stroke-linecap="round" clip-path="url(#clipd)"/>
<path d="M778.00 1074.48 L780.67 1074.29 L783.35 1074.13 L786.05 1074.01 L788.76 1073.91 L791.48 1073.83 L794.21 1073.78 L796.95 1073.75 L799.71 1073.74 L802.47 1073.75 L805.24 1073.77 L808.02 1073.81 L810.80 1073.85 L813.60 1073.91 L816.40 1073.97 L819.20 1074.03 L822.01 1074.10 L824.82 1074.16 L827.63 1074.22 L830.45 1074.28 L833.27 1074.33 L836.09 1074.38 L838.91 1074.41 L841.72 1074.42 L844.54 1074.43 L847.36 1074.41 L850.17 1074.37 L852.98 1074.31 L855.79 1074.23 L858.59 1074.12 L861.38 1073.99 L864.17 1073.82 L866.96 1073.62 L869.73 1073.38 L872.50 1073.10 L875.26 1072.79 L878.00 1072.43 L880.74 1072.03 L883.47 1071.59 L886.19 1071.09 L888.89 1070.55 L891.58 1069.95 L894.26 1069.30 L896.92 1068.61 L899.58 1067.86 L902.22 1067.07 L904.85 1066.25 L907.47 1065.38 L910.08 1064.48 L912.68 1063.55 L915.27 1062.59 L917.85 1061.61 L920.42 1060.60 L922.99 1059.57 L925.55 1058.53 L928.10 1057.46 L930.65 1056.37 L933.19 1055.27 L935.72 1054.15 L938.25 1053.02 L940.78 1051.88 L943.30 1050.72 L945.81 1049.56 L948.33 1048.38 L950.84 1047.19 L953.35 1046.00 L955.86 1044.80 L958.37 1043.60 L960.87 1042.39 L963.38 1041.18 L965.88 1039.97 L968.39 1038.76 L970.90 1037.55 L973.41 1036.34 L975.92 1035.13 L978.43 1033.93 L980.95 1032.73 L983.47 1031.54 L985.99 1030.35 L988.51 1029.17 L991.04 1027.98 L993.56 1026.80 L996.08 1025.61 L998.59 1024.41 L1001.10 1023.22 L1003.61 1022.01 L1006.11 1020.79 L1008.60 1019.57 L1011.08 1018.33 L1013.55 1017.08 L1016.02 1015.81 L1018.47 1014.52 L1020.91 1013.21 L1023.33 1011.89 L1025.74 1010.54 L1028.14 1009.17 L1030.51 1007.77 L1032.87 1006.35 L1035.22 1004.89 L1037.54 1003.41 L1039.84 1001.90 L1042.12 1000.35 L1044.37 998.76 L1046.61 997.15 L1048.83 995.50 L1051.02 993.83 L1053.20 992.13 L1055.37 990.40 L1057.52 988.66 L1059.66 986.89 L1061.78 985.10 L1063.90 983.30 L1066.00 981.48 L1068.10 979.65 L1070.19 977.81 L1072.28 975.96 L1074.36 974.10 L1076.44 972.24 L1078.51 970.37 L1080.59 968.50 L1082.66 966.63 L1084.74 964.77 L1086.82 962.90 L1088.90 961.04 L1090.98 959.17 L1093.05 957.30 L1095.12 955.43 L1097.19 953.56 L1099.25 951.68 L1101.30 949.79 L1103.35 947.90 L1105.38 946.00 L1107.41 944.09 L1109.43 942.17 L1111.43 940.25 L1113.42 938.31 L1115.40 936.36 L1117.37 934.40 L1119.33 932.43 L1121.28 930.45 L1123.21 928.47 L1125.13 926.47 L1127.05 924.46 L1128.95 922.45 L1130.84 920.42 L1132.72 918.39 L1134.59 916.35 L1136.46 914.29 L1138.31 912.24 L1140.15 910.17 L1141.99 908.09 L1143.81 906.01 L1145.63 903.92 L1147.43 901.83 L1149.23 899.72 L1151.03 897.61 L1152.81 895.49 L1154.59 893.37 L1156.36 891.24 L1158.12 889.10 L1159.87 886.96 L1161.62 884.81 L1163.36 882.65 L1165.09 880.49 L1166.82 878.33 L1168.54 876.15 L1170.26 873.98 L1171.97 871.80 L1173.68 869.61 L1175.38 867.42 L1177.07 865.23 L1178.76 863.03 L1180.45 860.83 L1182.13 858.62 L1183.81 856.41 L1185.48 854.20 L1187.15 851.98 L1188.82 849.77 L1190.48 847.54 L1192.14 845.32 L1193.80 843.09 L1195.45 840.86 L1197.10 838.63 L1198.75 836.40 L1200.40 834.16 L1202.05 831.93 L1203.69 829.69 L1205.33 827.45 L1206.97 825.21 L1208.61 822.97 L1210.25 820.72 L1211.89 818.48 L1213.53 816.24 L1215.17 814.00 L1216.80 811.75 L1218.44 809.51 L1220.08 807.27 L1221.72 805.03 L1223.36 802.78 L1225.00 800.54 L1226.64 798.31 L1228.28 796.07 L1229.93 793.83 L1231.58 791.60 L1233.23 789.37 L1234.88 787.14 L1236.54 784.91 L1238.20 782.69 L1239.86 780.47 L1241.53 778.25 L1243.20 776.03 L1244.88 773.82 L1246.56 771.62 L1248.24 769.42 L1249.93 767.22 L1251.63 765.02 L1253.33 762.84 L1255.04 760.65 L1256.75 758.47 L1258.48 756.30 L1260.20 754.14 L1261.94 751.98 L1263.68 749.82 L1265.43 747.67 L1267.19 745.53 L1268.96 743.40 L1270.73 741.27 L1272.52 739.15 L1274.31 737.04 L1276.11 734.93 L1277.92 732.84 L1279.75 730.75 L1281.58 728.67 L1283.42 726.60 L1285.28 724.54 L1287.14 722.48 L1289.02 720.44 L1290.90 718.41 L1292.80 716.38 L1294.72 714.37 L1296.64 712.37 L1298.58 710.37 L1300.53 708.39 L1302.49 706.42 L1304.46 704.46 L1306.45 702.51 L1308.46 700.57 L1310.48 698.65 L1312.51 696.74 L1314.56 694.84" stroke="#008080" stroke-width="9.0" fill="none" stroke-linejoin="round" stroke-linecap="round" clip-path="url(#clipd)"/>
<path d="M778.00 1067.45 L780.95 1067.44 L783.90 1067.44 L786.85 1067.44 L789.80 1067.45 L792.76 1067.45 L795.71 1067.46 L798.66 1067.48 L801.61 1067.50 L804.56 1067.52 L807.51 1067.55 L810.46 1067.58 L813.41 1067.62 L816.36 1067.66 L819.31 1067.71 L822.26 1067.77 L825.21 1067.83 L828.16 1067.90 L831.11 1067.97 L834.06 1068.05 L837.01 1068.14 L839.96 1068.24 L842.91 1068.34 L845.86 1068.45 L848.81 1068.57 L851.76 1068.70 L854.71 1068.83 L857.66 1068.98 L860.61 1069.13 L863.56 1069.30 L866.51 1069.47 L869.45 1069.65 L872.40 1069.84 L875.35 1070.05 L878.30 1070.26 L881.24 1070.49 L884.19 1070.72 L887.14 1070.97 L890.09 1071.22 L893.03 1071.47 L895.98 1071.73 L898.93 1071.99 L901.87 1072.24 L904.82 1072.49 L907.76 1072.74 L910.71 1072.97 L913.66 1073.19 L916.60 1073.39 L919.55 1073.58 L922.49 1073.75 L925.44 1073.90 L928.38 1074.02 L931.32 1074.12 L934.27 1074.19 L937.21 1074.22 L940.16 1074.22 L943.10 1074.19 L946.04 1074.12 L948.99 1074.00 L951.93 1073.85 L954.87 1073.65 L957.82 1073.40 L960.75 1073.12 L963.69 1072.79 L966.62 1072.42 L969.55 1072.00 L972.48 1071.55 L975.39 1071.05 L978.30 1070.50 L981.20 1069.91 L984.09 1069.28 L986.96 1068.59 L989.82 1067.85 L992.66 1067.05 L995.48 1066.20 L998.28 1065.28 L1001.05 1064.31 L1003.81 1063.26 L1006.53 1062.16 L1009.23 1060.99 L1011.91 1059.76 L1014.56 1058.48 L1017.19 1057.15 L1019.80 1055.76 L1022.38 1054.33 L1024.94 1052.84 L1027.47 1051.32 L1029.98 1049.75 L1032.47 1048.14 L1034.93 1046.49 L1037.37 1044.81 L1039.79 1043.10 L1042.18 1041.36 L1044.55 1039.59 L1046.90 1037.79 L1049.23 1035.96 L1051.54 1034.11 L1053.82 1032.23 L1056.09 1030.33 L1058.34 1028.41 L1060.56 1026.47 L1062.77 1024.50 L1064.96 1022.51 L1067.14 1020.51 L1069.29 1018.48 L1071.43 1016.44 L1073.56 1014.39 L1075.67 1012.31 L1077.76 1010.23 L1079.84 1008.12 L1081.90 1006.01 L1083.96 1003.88 L1085.99 1001.75 L1088.02 999.60 L1090.03 997.44 L1092.03 995.27 L1094.02 993.08 L1096.00 990.89 L1097.96 988.69 L1099.92 986.48 L1101.86 984.26 L1103.79 982.03 L1105.71 979.79 L1107.62 977.54 L1109.52 975.28 L1111.41 973.02 L1113.30 970.74 L1115.17 968.46 L1117.03 966.17 L1118.89 963.88 L1120.73 961.58 L1122.57 959.27 L1124.40 956.95 L1126.22 954.63 L1128.04 952.30 L1129.84 949.97 L1131.64 947.63 L1133.44 945.29 L1135.23 942.94 L1137.01 940.59 L1138.78 938.23 L1140.55 935.87 L1142.32 933.51 L1144.08 931.14 L1145.83 928.77 L1147.58 926.39 L1149.32 924.01 L1151.07 921.63 L1152.80 919.25 L1154.53 916.86 L1156.26 914.47 L1157.98 912.07 L1159.70 909.68 L1161.41 907.28 L1163.12 904.87 L1164.83 902.47 L1166.53 900.06 L1168.22 897.65 L1169.92 895.23 L1171.61 892.82 L1173.29 890.40 L1174.97 887.97 L1176.65 885.55 L1178.32 883.12 L1179.99 880.69 L1181.66 878.26 L1183.32 875.82 L1184.98 873.38 L1186.64 870.94 L1188.29 868.49 L1189.94 866.05 L1191.59 863.60 L1193.23 861.15 L1194.87 858.69 L1196.50 856.23 L1198.13 853.77 L1199.76 851.31 L1201.38 848.85 L1203.00 846.38 L1204.61 843.91 L1206.22 841.43 L1207.83 838.96 L1209.44 836.48 L1211.04 834.00 L1212.63 831.52 L1214.23 829.04 L1215.82 826.55 L1217.41 824.07 L1219.00 821.58 L1220.58 819.09 L1222.17 816.60 L1223.75 814.11 L1225.33 811.62 L1226.91 809.12 L1228.49 806.63 L1230.06 804.13 L1231.64 801.64 L1233.21 799.14 L1234.79 796.65 L1236.36 794.15 L1237.93 791.65 L1239.51 789.16 L1241.08 786.66 L1242.65 784.16 L1244.22 781.66 L1245.79 779.17 L1247.36 776.67 L1248.94 774.17 L1250.51 771.67 L1252.08 769.17 L1253.65 766.67 L1255.21 764.17 L1256.78 761.68 L1258.35 759.18 L1259.92 756.68 L1261.49 754.18 L1263.06 751.68 L1264.62 749.18 L1266.19 746.68 L1267.76 744.18 L1269.32 741.67 L1270.89 739.17 L1272.45 736.67 L1274.02 734.17 L1275.58 731.67 L1277.15 729.17 L1278.71 726.67 L1280.28 724.16 L1281.84 721.66 L1283.40 719.16 L1284.97 716.66 L1286.53 714.15 L1288.09 711.65 L1289.65 709.15 L1291.22 706.64 L1292.78 704.14 L1294.34 701.63 L1295.90 699.13 L1297.46 696.63 L1299.02 694.12 L1300.58 691.62 L1302.14 689.11 L1303.70 686.61 L1305.26 684.10 L1306.82 681.60 L1308.37 679.09 L1309.93 676.58 L1311.49 674.08 L1313.05 671.57 L1314.60 669.06" stroke="#8000FF" stroke-width="9.0" fill="none" stroke-linejoin="round" stroke-linecap="round" clip-path="url(#clipd)"/>
<path d="M838.61 1074.40v-7.5M838.61 603.80v7.5M869.68 1074.40v-7.5M869.68 603.80v7.5M891.72 1074.40v-7.5M891.72 603.80v7.5M908.82 1074.40v-7.5M908.82 603.80v7.5M922.79 1074.40v-7.5M922.79 603.80v7.5M934.60 1074.40v-7.5M934.60 603.80v7.5M944.84 1074.40v-7.5M944.84 603.80v7.5M953.86 1074.40v-7.5M953.86 603.80v7.5M961.93 1074.40v-15M961.93 603.80v15M1015.05 1074.40v-7.5M1015.05 603.80v7.5M1046.11 1074.40v-7.5M1046.11 603.80v7.5M1068.16 1074.40v-7.5M1068.16 603.80v7.5M1085.25 1074.40v-7.5M1085.25 603.80v7.5M1099.23 1074.40v-7.5M1099.23 603.80v7.5M1111.04 1074.40v-7.5M1111.04 603.80v7.5M1121.27 1074.40v-7.5M1121.27 603.80v7.5M1130.29 1074.40v-7.5M1130.29 603.80v7.5M1138.37 1074.40v-15M1138.37 603.80v15M1191.48 1074.40v-7.5M1191.48 603.80v7.5M1222.55 1074.40v-7.5M1222.55 603.80v7.5M1244.59 1074.40v-7.5M1244.59 603.80v7.5M1261.69 1074.40v-7.5M1261.69 603.80v7.5M1275.66 1074.40v-7.5M1275.66 603.80v7.5M1287.47 1074.40v-7.5M1287.47 603.80v7.5M1297.70 1074.40v-7.5M1297.70 603.80v7.5M1306.73 1074.40v-7.5M1306.73 603.80v7.5M785.50 917.53h15M1314.80 917.53h-15M785.50 760.67h15M1314.80 760.67h-15M785.50 995.97h7.5M1314.80 995.97h-7.5M785.50 839.10h7.5M1314.80 839.10h-7.5M785.50 682.23h7.5M1314.80 682.23h-7.5" stroke="#000" stroke-width="1.8" fill="none"/>
<rect x="785.50" y="603.80" width="529.30" height="470.60" stroke="#000" stroke-width="1.8" fill="none"/>
<line x1="817.00" y1="655.00" x2="906.60" y2="655.00" stroke="#FF8000" stroke-width="9.0" stroke-linecap="round"/>
<text transform="matrix(1 0 0 1.04 0 -26.728)" x="925.19" y="668.20" font-size="40.0">300 K</text>
<line x1="817.00" y1="704.30" x2="906.60" y2="704.30" stroke="#008080" stroke-width="9.0" stroke-linecap="round"/>
<text transform="matrix(1 0 0 1.04 0 -28.700)" x="924.78" y="717.50" font-size="40.0">500 K</text>
<line x1="817.00" y1="753.80" x2="906.60" y2="753.80" stroke="#8000FF" stroke-width="9.0" stroke-linecap="round"/>
<text transform="matrix(1 0 0 1.04 0 -30.680)" x="924.46" y="767.00" font-size="40.0">700 K</text>
<text transform="matrix(1 0 0 1.04 0 -34.212)" x="827.30" y="855.30" font-size="37.5">p-type,Na</text>
<text transform="matrix(1 0 0 1.04 0 -34.588)" x="982.27" y="864.70" font-size="25.7">2</text>
<text transform="matrix(1 0 0 1.04 0 -34.212)" x="997.92" y="855.30" font-size="37.5">TlSb</text>
<text transform="matrix(1 0 0 1.04 0 -45.152)" x="751.75" y="1128.80" font-size="40.5">10</text>
<text transform="matrix(1 0 0 1.04 0 -44.472)" x="792.25" y="1111.80" font-size="27.0">18</text>
<text transform="matrix(1 0 0 1.04 0 -45.152)" x="928.18" y="1128.80" font-size="40.5">10</text>
<text transform="matrix(1 0 0 1.04 0 -44.472)" x="968.68" y="1111.80" font-size="27.0">19</text>
<text transform="matrix(1 0 0 1.04 0 -45.152)" x="1104.62" y="1128.80" font-size="40.5">10</text>
<text transform="matrix(1 0 0 1.04 0 -44.472)" x="1145.12" y="1111.80" font-size="27.0">20</text>
<text transform="matrix(1 0 0 1.04 0 -45.152)" x="1281.05" y="1128.80" font-size="40.5">10</text>
<text transform="matrix(1 0 0 1.04 0 -44.472)" x="1321.55" y="1111.80" font-size="27.0">21</text>
<text transform="matrix(1 0 0 1.04 0 -46.468)" x="975.66" y="1161.70" font-size="40.5" font-style="italic">n</text>
<text transform="matrix(1 0 0 1.04 0 -46.892)" x="997.64" y="1172.30" font-size="27.0">h</text>
<text transform="matrix(1 0 0 1.04 0 -46.468)" x="1022.02" y="1161.70" font-size="40.5">(cm</text>
<text transform="matrix(1 0 0 1.04 0 -45.792)" x="1086.00" y="1144.80" font-size="27.0">-3</text>
<text transform="matrix(1 0 0 1.04 0 -46.468)" x="1108.49" y="1161.70" font-size="40.5">)</text>
<text transform="matrix(1 0 0 1.04 0 -43.464)" x="768.00" y="1086.60" font-size="40.5" text-anchor="end">0</text>
<text transform="matrix(1 0 0 1.04 0 -37.189)" x="768.00" y="929.73" font-size="40.5" text-anchor="end">15</text>
<text transform="matrix(1 0 0 1.04 0 -30.915)" x="768.00" y="772.87" font-size="40.5" text-anchor="end">30</text>
<text transform="matrix(1 0 0 1.04 0 -24.640)" x="768.00" y="616.00" font-size="40.5" text-anchor="end">45</text>
<text transform="matrix(1 0 0 1.04 0 -39.124) rotate(-90)" x="-978.57" y="710.20" font-size="40.5" font-style="italic">S</text>
<text transform="matrix(1 0 0 1.04 0 -38.284) rotate(-90)" x="-958.29" y="692.50" font-size="27.0">2</text>
<text transform="matrix(1 0 0 1.04 0 -37.520) rotate(-90)" x="-939.21" y="710.20" font-size="40.5" font-style="italic">σ</text>
<text transform="matrix(1 0 0 1.04 0 -36.252) rotate(-90)" x="-908.08" y="710.20" font-size="40.5">(mWm</text>
<text transform="matrix(1 0 0 1.04 0 -31.564) rotate(-90)" x="-790.10" y="692.50" font-size="27.0">-1</text>
<text transform="matrix(1 0 0 1.04 0 -30.524) rotate(-90)" x="-764.27" y="710.20" font-size="40.5">K</text>
<text transform="matrix(1 0 0 1.04 0 -29.432) rotate(-90)" x="-736.80" y="692.50" font-size="27.0">-2</text>
<text transform="matrix(1 0 0 1.04 0 -28.516) rotate(-90)" x="-714.21" y="710.20" font-size="40.5">)</text>
<text transform="matrix(1 0 0 1.04 0 -25.384)" x="680.48" y="634.60" font-size="37.5" font-weight="bold">d</text></svg></body></html>
